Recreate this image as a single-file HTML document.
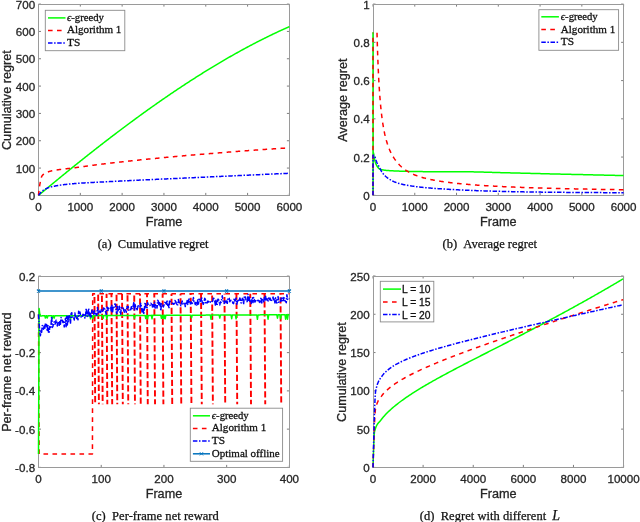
<!DOCTYPE html><html><head><meta charset="utf-8"><style>
html,body{margin:0;padding:0;background:#fff;width:640px;height:522px;overflow:hidden}
svg{display:block;will-change:transform}
.tk{font-family:"Liberation Sans",sans-serif;font-size:11.6px;fill:#262626;stroke:#262626;stroke-width:0.3px}
.lb{font-family:"Liberation Sans",sans-serif;font-size:12.65px;fill:#262626;stroke:#262626;stroke-width:0.3px}
.lg{font-family:"Liberation Serif",serif;font-size:11.3px;fill:#111;stroke:#111;stroke-width:0.3px}
.lgs{font-family:"Liberation Sans",sans-serif;font-size:10.3px;fill:#111;stroke:#111;stroke-width:0.3px}
.cap{font-family:"Liberation Serif",serif;font-size:12.5px;fill:#111;stroke:#111;stroke-width:0.25px}
</style></head><body><svg width="640" height="522" viewBox="0 0 640 522">
<path d="M38.50 195.40V192.90M38.50 4.10V6.60M80.32 195.40V192.90M80.32 4.10V6.60M122.13 195.40V192.90M122.13 4.10V6.60M163.95 195.40V192.90M163.95 4.10V6.60M205.77 195.40V192.90M205.77 4.10V6.60M247.58 195.40V192.90M247.58 4.10V6.60M289.40 195.40V192.90M289.40 4.10V6.60M38.50 195.40H41.00M289.40 195.40H286.90M38.50 168.07H41.00M289.40 168.07H286.90M38.50 140.74H41.00M289.40 140.74H286.90M38.50 113.41H41.00M289.40 113.41H286.90M38.50 86.09H41.00M289.40 86.09H286.90M38.50 58.76H41.00M289.40 58.76H286.90M38.50 31.43H41.00M289.40 31.43H286.90M38.50 4.10H41.00M289.40 4.10H286.90" stroke="#262626" stroke-width="0.6" fill="none"/>
<rect x="38.50" y="4.50" width="251.00" height="191.00" fill="none" stroke="#9a9a9a" stroke-width="1"/>
<text x="38.50" y="210.70" text-anchor="middle" class="tk">0</text>
<text x="80.32" y="210.70" text-anchor="middle" class="tk">1000</text>
<text x="122.13" y="210.70" text-anchor="middle" class="tk">2000</text>
<text x="163.95" y="210.70" text-anchor="middle" class="tk">3000</text>
<text x="205.77" y="210.70" text-anchor="middle" class="tk">4000</text>
<text x="247.58" y="210.70" text-anchor="middle" class="tk">5000</text>
<text x="289.40" y="210.70" text-anchor="middle" class="tk">6000</text>
<text x="35.10" y="199.90" text-anchor="end" class="tk">0</text>
<text x="35.10" y="172.57" text-anchor="end" class="tk">100</text>
<text x="35.10" y="145.24" text-anchor="end" class="tk">200</text>
<text x="35.10" y="117.91" text-anchor="end" class="tk">300</text>
<text x="35.10" y="90.59" text-anchor="end" class="tk">400</text>
<text x="35.10" y="63.26" text-anchor="end" class="tk">500</text>
<text x="35.10" y="35.93" text-anchor="end" class="tk">600</text>
<text x="35.10" y="8.60" text-anchor="end" class="tk">700</text>
<text x="163.95" y="225.60" text-anchor="middle" class="lb">Frame</text>
<text transform="translate(11.10 100.15) rotate(-90)" text-anchor="middle" class="lb">Cumulative regret</text>
<polyline points="38.50,195.40 38.63,195.30 38.75,195.19 38.88,195.09 39.00,194.98 39.13,194.88 39.25,194.77 39.38,194.67 39.50,194.56 39.63,194.46 39.75,194.35 39.88,194.25 40.01,194.14 40.13,194.04 40.26,193.93 40.38,193.83 40.51,193.72 40.63,193.62 40.76,193.51 40.88,193.41 41.01,193.30 41.13,193.20 41.26,193.09 41.39,192.99 41.51,192.89 41.64,192.78 41.76,192.68 41.89,192.57 42.01,192.47 42.14,192.36 42.26,192.26 42.39,192.15 42.51,192.05 42.64,191.94 42.77,191.84 42.89,191.73 43.02,191.63 43.14,191.53 43.27,191.42 43.39,191.32 43.52,191.21 43.64,191.11 43.77,191.00 43.89,190.90 44.02,190.79 44.15,190.69 44.27,190.59 44.40,190.48 44.52,190.38 44.65,190.27 44.77,190.17 44.90,190.06 45.02,189.96 45.15,189.86 45.27,189.75 45.40,189.65 45.53,189.54 45.65,189.44 45.78,189.33 45.90,189.23 46.03,189.13 46.15,189.02 46.28,188.92 46.40,188.81 46.53,188.71 46.65,188.61 46.78,188.50 46.91,188.40 47.03,188.29 47.16,188.19 47.28,188.09 47.41,187.98 47.53,187.88 47.66,187.77 47.78,187.67 47.91,187.57 48.03,187.46 48.16,187.36 48.29,187.25 48.41,187.15 48.54,187.05 48.66,186.94 48.79,186.84 48.91,186.73 49.04,186.63 49.16,186.53 49.29,186.42 49.41,186.32 49.54,186.21 49.67,186.11 49.79,186.01 49.92,185.90 50.04,185.80 50.17,185.70 50.29,185.59 50.42,185.49 50.54,185.38 50.67,185.28 50.79,185.18 50.92,185.07 51.05,184.97 51.88,184.28 52.72,183.59 53.55,182.90 54.39,182.21 55.23,181.52 56.06,180.83 56.90,180.15 57.74,179.46 58.57,178.77 59.41,178.09 60.24,177.40 61.08,176.72 61.92,176.04 62.75,175.35 63.59,174.67 64.43,173.99 65.26,173.31 66.10,172.63 66.94,171.95 67.77,171.27 68.61,170.59 69.44,169.91 70.28,169.24 71.12,168.56 71.95,167.88 72.79,167.21 73.63,166.54 74.46,165.86 75.30,165.19 76.13,164.52 76.97,163.85 77.81,163.17 78.64,162.50 79.48,161.83 80.32,161.17 81.15,160.50 81.99,159.83 82.83,159.16 83.66,158.50 84.50,157.83 85.33,157.17 86.17,156.51 87.01,155.84 87.84,155.18 88.68,154.52 89.52,153.86 90.35,153.20 91.19,152.54 92.03,151.88 92.86,151.22 93.70,150.57 94.53,149.91 95.37,149.26 96.21,148.60 97.04,147.95 97.88,147.30 98.72,146.64 99.55,145.99 100.39,145.34 101.22,144.69 102.06,144.04 102.90,143.40 103.73,142.75 104.57,142.10 105.41,141.46 106.24,140.81 107.08,140.17 107.92,139.53 108.75,138.88 109.59,138.24 110.42,137.60 111.26,136.96 112.10,136.32 112.93,135.69 113.77,135.05 114.61,134.41 115.44,133.78 116.28,133.14 117.12,132.51 117.95,131.88 118.79,131.25 119.62,130.62 120.46,129.99 121.30,129.36 122.13,128.73 122.97,128.10 123.81,127.48 124.64,126.85 125.48,126.23 126.31,125.60 127.15,124.98 127.99,124.36 128.82,123.74 129.66,123.12 130.50,122.50 131.33,121.88 132.17,121.27 133.01,120.65 133.84,120.04 134.68,119.42 135.51,118.81 136.35,118.20 137.19,117.59 138.02,116.98 138.86,116.37 139.70,115.76 140.53,115.15 141.37,114.55 142.21,113.94 143.04,113.34 143.88,112.73 144.71,112.13 145.55,111.53 146.39,110.93 147.22,110.33 148.06,109.73 148.90,109.14 149.73,108.54 150.57,107.95 151.40,107.35 152.24,106.76 153.08,106.17 153.91,105.58 154.75,104.99 155.59,104.40 156.42,103.81 157.26,103.22 158.10,102.64 158.93,102.06 159.77,101.47 160.60,100.89 161.44,100.31 162.28,99.73 163.11,99.15 163.95,98.57 164.79,98.00 165.62,97.42 166.46,96.85 167.30,96.27 168.13,95.70 168.97,95.13 169.80,94.56 170.64,93.99 171.48,93.42 172.31,92.86 173.15,92.29 173.99,91.73 174.82,91.16 175.66,90.60 176.50,90.04 177.33,89.48 178.17,88.92 179.00,88.37 179.84,87.81 180.68,87.26 181.51,86.70 182.35,86.15 183.19,85.60 184.02,85.05 184.86,84.50 185.69,83.95 186.53,83.41 187.37,82.86 188.20,82.32 189.04,81.77 189.88,81.23 190.71,80.69 191.55,80.15 192.39,79.61 193.22,79.08 194.06,78.54 194.89,78.01 195.73,77.47 196.57,76.94 197.40,76.41 198.24,75.88 199.08,75.36 199.91,74.83 200.75,74.30 201.58,73.78 202.42,73.26 203.26,72.73 204.09,72.21 204.93,71.69 205.77,71.18 206.60,70.66 207.44,70.15 208.28,69.63 209.11,69.12 209.95,68.61 210.78,68.10 211.62,67.59 212.46,67.08 213.29,66.58 214.13,66.07 214.97,65.57 215.80,65.07 216.64,64.57 217.48,64.07 218.31,63.57 219.15,63.07 219.98,62.58 220.82,62.08 221.66,61.59 222.49,61.10 223.33,60.61 224.17,60.12 225.00,59.64 225.84,59.15 226.67,58.67 227.51,58.18 228.35,57.70 229.18,57.22 230.02,56.74 230.86,56.27 231.69,55.79 232.53,55.32 233.37,54.84 234.20,54.37 235.04,53.90 235.87,53.43 236.71,52.97 237.55,52.50 238.38,52.04 239.22,51.57 240.06,51.11 240.89,50.65 241.73,50.19 242.57,49.74 243.40,49.28 244.24,48.83 245.07,48.37 245.91,47.92 246.75,47.47 247.58,47.03 248.42,46.58 249.26,46.13 250.09,45.69 250.93,45.25 251.76,44.81 252.60,44.37 253.44,43.93 254.27,43.49 255.11,43.06 255.95,42.63 256.78,42.20 257.62,41.77 258.46,41.34 259.29,40.91 260.13,40.49 260.96,40.06 261.80,39.64 262.64,39.22 263.47,38.80 264.31,38.38 265.15,37.97 265.98,37.55 266.82,37.14 267.66,36.73 268.49,36.32 269.33,35.91 270.16,35.50 271.00,35.10 271.84,34.70 272.67,34.29 273.51,33.89 274.35,33.49 275.18,33.10 276.02,32.70 276.85,32.31 277.69,31.92 278.53,31.53 279.36,31.14 280.20,30.75 281.04,30.37 281.87,29.98 282.71,29.60 283.55,29.22 284.38,28.84 285.22,28.46 286.05,28.09 286.89,27.71 287.73,27.34 288.56,26.97 289.40,26.60" fill="none" stroke="#00ff00" stroke-width="1.50" stroke-linejoin="round"/>
<polyline points="38.50,195.40 38.63,194.09 38.75,192.83 38.88,191.61 39.00,190.45 39.13,189.37 39.25,188.36 39.38,187.45 39.50,186.59 39.63,185.77 39.75,184.99 39.88,184.24 40.01,183.53 40.13,182.85 40.26,182.20 40.38,181.59 40.51,181.01 40.63,180.46 40.76,179.91 40.88,179.37 41.01,178.84 41.13,178.33 41.26,177.84 41.39,177.39 41.51,176.99 41.64,176.63 41.76,176.33 41.89,176.11 42.01,175.92 42.14,175.74 42.26,175.57 42.39,175.42 42.51,175.27 42.64,175.13 42.77,174.99 42.89,174.87 43.02,174.75 43.14,174.64 43.27,174.53 43.39,174.43 43.52,174.33 43.64,174.24 43.77,174.15 43.89,174.07 44.02,173.99 44.15,173.91 44.27,173.83 44.40,173.76 44.52,173.68 44.65,173.61 44.77,173.54 44.90,173.46 45.02,173.39 45.15,173.32 45.27,173.25 45.40,173.18 45.53,173.11 45.65,173.05 45.78,172.98 45.90,172.91 46.03,172.85 46.15,172.78 46.28,172.72 46.40,172.66 46.53,172.60 46.65,172.54 46.78,172.48 46.91,172.42 47.03,172.36 47.16,172.31 47.28,172.25 47.41,172.20 47.53,172.14 47.66,172.09 47.78,172.04 47.91,171.99 48.03,171.94 48.16,171.89 48.29,171.84 48.41,171.79 48.54,171.75 48.66,171.70 48.79,171.66 48.91,171.62 49.04,171.57 49.16,171.53 49.29,171.49 49.41,171.45 49.54,171.41 49.67,171.38 49.79,171.34 49.92,171.30 50.04,171.27 50.17,171.23 50.29,171.20 50.42,171.17 50.54,171.14 50.67,171.11 50.79,171.08 50.92,171.05 51.05,171.02 51.88,170.84 52.72,170.66 53.55,170.50 54.39,170.35 55.23,170.20 56.06,170.06 56.90,169.93 57.74,169.81 58.57,169.69 59.41,169.58 60.24,169.48 61.08,169.37 61.92,169.27 62.75,169.18 63.59,169.08 64.43,168.99 65.26,168.89 66.10,168.80 66.94,168.71 67.77,168.62 68.61,168.52 69.44,168.42 70.28,168.32 71.12,168.21 71.95,168.11 72.79,167.99 73.63,167.88 74.46,167.76 75.30,167.65 76.13,167.54 76.97,167.42 77.81,167.31 78.64,167.19 79.48,167.08 80.32,166.97 81.15,166.85 81.99,166.74 82.83,166.62 83.66,166.51 84.50,166.40 85.33,166.28 86.17,166.17 87.01,166.06 87.84,165.94 88.68,165.83 89.52,165.72 90.35,165.61 91.19,165.50 92.03,165.39 92.86,165.28 93.70,165.17 94.53,165.06 95.37,164.95 96.21,164.84 97.04,164.73 97.88,164.62 98.72,164.52 99.55,164.41 100.39,164.31 101.22,164.20 102.06,164.10 102.90,163.99 103.73,163.89 104.57,163.79 105.41,163.69 106.24,163.59 107.08,163.49 107.92,163.39 108.75,163.30 109.59,163.20 110.42,163.10 111.26,163.01 112.10,162.92 112.93,162.82 113.77,162.73 114.61,162.63 115.44,162.54 116.28,162.45 117.12,162.36 117.95,162.26 118.79,162.17 119.62,162.08 120.46,161.99 121.30,161.90 122.13,161.81 122.97,161.72 123.81,161.62 124.64,161.53 125.48,161.45 126.31,161.36 127.15,161.27 127.99,161.18 128.82,161.09 129.66,161.00 130.50,160.91 131.33,160.82 132.17,160.74 133.01,160.65 133.84,160.56 134.68,160.47 135.51,160.39 136.35,160.30 137.19,160.22 138.02,160.13 138.86,160.04 139.70,159.96 140.53,159.87 141.37,159.79 142.21,159.70 143.04,159.62 143.88,159.54 144.71,159.45 145.55,159.37 146.39,159.29 147.22,159.20 148.06,159.12 148.90,159.04 149.73,158.95 150.57,158.87 151.40,158.79 152.24,158.71 153.08,158.63 153.91,158.55 154.75,158.47 155.59,158.38 156.42,158.30 157.26,158.22 158.10,158.14 158.93,158.06 159.77,157.98 160.60,157.91 161.44,157.83 162.28,157.75 163.11,157.67 163.95,157.59 164.79,157.51 165.62,157.43 166.46,157.36 167.30,157.28 168.13,157.20 168.97,157.12 169.80,157.05 170.64,156.97 171.48,156.89 172.31,156.82 173.15,156.74 173.99,156.67 174.82,156.59 175.66,156.51 176.50,156.44 177.33,156.36 178.17,156.29 179.00,156.21 179.84,156.14 180.68,156.07 181.51,155.99 182.35,155.92 183.19,155.84 184.02,155.77 184.86,155.70 185.69,155.62 186.53,155.55 187.37,155.48 188.20,155.41 189.04,155.33 189.88,155.26 190.71,155.19 191.55,155.12 192.39,155.05 193.22,154.98 194.06,154.90 194.89,154.83 195.73,154.76 196.57,154.69 197.40,154.62 198.24,154.55 199.08,154.48 199.91,154.41 200.75,154.34 201.58,154.27 202.42,154.20 203.26,154.13 204.09,154.06 204.93,153.99 205.77,153.92 206.60,153.86 207.44,153.79 208.28,153.72 209.11,153.65 209.95,153.58 210.78,153.51 211.62,153.45 212.46,153.38 213.29,153.31 214.13,153.24 214.97,153.17 215.80,153.11 216.64,153.04 217.48,152.97 218.31,152.91 219.15,152.84 219.98,152.77 220.82,152.71 221.66,152.64 222.49,152.57 223.33,152.51 224.17,152.44 225.00,152.38 225.84,152.31 226.67,152.25 227.51,152.18 228.35,152.12 229.18,152.05 230.02,151.99 230.86,151.92 231.69,151.86 232.53,151.79 233.37,151.73 234.20,151.67 235.04,151.60 235.87,151.54 236.71,151.47 237.55,151.41 238.38,151.35 239.22,151.29 240.06,151.22 240.89,151.16 241.73,151.10 242.57,151.04 243.40,150.97 244.24,150.91 245.07,150.85 245.91,150.79 246.75,150.73 247.58,150.67 248.42,150.61 249.26,150.54 250.09,150.48 250.93,150.42 251.76,150.36 252.60,150.30 253.44,150.24 254.27,150.18 255.11,150.12 255.95,150.06 256.78,150.01 257.62,149.95 258.46,149.89 259.29,149.83 260.13,149.77 260.96,149.71 261.80,149.65 262.64,149.60 263.47,149.54 264.31,149.48 265.15,149.42 265.98,149.37 266.82,149.31 267.66,149.25 268.49,149.20 269.33,149.14 270.16,149.08 271.00,149.03 271.84,148.97 272.67,148.92 273.51,148.86 274.35,148.81 275.18,148.75 276.02,148.70 276.85,148.64 277.69,148.59 278.53,148.53 279.36,148.48 280.20,148.43 281.04,148.37 281.87,148.32 282.71,148.27 283.55,148.21 284.38,148.16 285.22,148.11 286.05,148.06 286.89,148.00 287.73,147.95 288.56,147.90 289.40,147.85" fill="none" stroke="#ff0000" stroke-width="1.50" stroke-dasharray="4.6 4.4" stroke-linejoin="round"/>
<polyline points="38.50,195.40 38.63,195.22 38.75,195.04 38.88,194.87 39.00,194.69 39.13,194.52 39.25,194.35 39.38,194.18 39.50,194.02 39.63,193.86 39.75,193.70 39.88,193.55 40.01,193.40 40.13,193.26 40.26,193.12 40.38,192.98 40.51,192.84 40.63,192.71 40.76,192.57 40.88,192.44 41.01,192.30 41.13,192.17 41.26,192.04 41.39,191.91 41.51,191.79 41.64,191.66 41.76,191.54 41.89,191.42 42.01,191.30 42.14,191.18 42.26,191.07 42.39,190.96 42.51,190.86 42.64,190.75 42.77,190.65 42.89,190.56 43.02,190.46 43.14,190.37 43.27,190.29 43.39,190.21 43.52,190.13 43.64,190.05 43.77,189.97 43.89,189.90 44.02,189.82 44.15,189.75 44.27,189.67 44.40,189.60 44.52,189.53 44.65,189.45 44.77,189.38 44.90,189.31 45.02,189.24 45.15,189.17 45.27,189.11 45.40,189.04 45.53,188.97 45.65,188.91 45.78,188.84 45.90,188.78 46.03,188.71 46.15,188.65 46.28,188.59 46.40,188.53 46.53,188.47 46.65,188.41 46.78,188.35 46.91,188.29 47.03,188.23 47.16,188.18 47.28,188.12 47.41,188.07 47.53,188.02 47.66,187.96 47.78,187.91 47.91,187.86 48.03,187.81 48.16,187.76 48.29,187.71 48.41,187.66 48.54,187.62 48.66,187.57 48.79,187.53 48.91,187.48 49.04,187.44 49.16,187.40 49.29,187.36 49.41,187.31 49.54,187.28 49.67,187.24 49.79,187.20 49.92,187.16 50.04,187.13 50.17,187.09 50.29,187.06 50.42,187.02 50.54,186.99 50.67,186.96 50.79,186.93 50.92,186.90 51.05,186.87 51.88,186.67 52.72,186.49 53.55,186.31 54.39,186.14 55.23,185.97 56.06,185.82 56.90,185.67 57.74,185.52 58.57,185.38 59.41,185.25 60.24,185.13 61.08,185.00 61.92,184.89 62.75,184.78 63.59,184.67 64.43,184.57 65.26,184.47 66.10,184.38 66.94,184.29 67.77,184.20 68.61,184.12 69.44,184.04 70.28,183.96 71.12,183.88 71.95,183.81 72.79,183.74 73.63,183.67 74.46,183.60 75.30,183.53 76.13,183.47 76.97,183.40 77.81,183.34 78.64,183.28 79.48,183.22 80.32,183.17 81.15,183.11 81.99,183.06 82.83,183.00 83.66,182.95 84.50,182.90 85.33,182.85 86.17,182.80 87.01,182.75 87.84,182.71 88.68,182.66 89.52,182.62 90.35,182.57 91.19,182.53 92.03,182.49 92.86,182.44 93.70,182.40 94.53,182.36 95.37,182.32 96.21,182.28 97.04,182.24 97.88,182.20 98.72,182.16 99.55,182.12 100.39,182.08 101.22,182.04 102.06,182.00 102.90,181.95 103.73,181.91 104.57,181.87 105.41,181.83 106.24,181.79 107.08,181.75 107.92,181.71 108.75,181.66 109.59,181.62 110.42,181.58 111.26,181.53 112.10,181.49 112.93,181.45 113.77,181.40 114.61,181.36 115.44,181.32 116.28,181.27 117.12,181.23 117.95,181.19 118.79,181.15 119.62,181.10 120.46,181.06 121.30,181.02 122.13,180.98 122.97,180.93 123.81,180.89 124.64,180.85 125.48,180.81 126.31,180.77 127.15,180.73 127.99,180.69 128.82,180.65 129.66,180.60 130.50,180.56 131.33,180.52 132.17,180.48 133.01,180.44 133.84,180.40 134.68,180.36 135.51,180.32 136.35,180.28 137.19,180.24 138.02,180.20 138.86,180.16 139.70,180.12 140.53,180.08 141.37,180.04 142.21,180.00 143.04,179.96 143.88,179.93 144.71,179.89 145.55,179.85 146.39,179.81 147.22,179.77 148.06,179.73 148.90,179.69 149.73,179.65 150.57,179.61 151.40,179.58 152.24,179.54 153.08,179.50 153.91,179.46 154.75,179.42 155.59,179.38 156.42,179.35 157.26,179.31 158.10,179.27 158.93,179.23 159.77,179.19 160.60,179.15 161.44,179.12 162.28,179.08 163.11,179.04 163.95,179.00 164.79,178.96 165.62,178.93 166.46,178.89 167.30,178.85 168.13,178.81 168.97,178.77 169.80,178.74 170.64,178.70 171.48,178.66 172.31,178.62 173.15,178.59 173.99,178.55 174.82,178.51 175.66,178.47 176.50,178.43 177.33,178.40 178.17,178.36 179.00,178.32 179.84,178.28 180.68,178.25 181.51,178.21 182.35,178.17 183.19,178.13 184.02,178.09 184.86,178.06 185.69,178.02 186.53,177.98 187.37,177.94 188.20,177.90 189.04,177.87 189.88,177.83 190.71,177.79 191.55,177.75 192.39,177.71 193.22,177.67 194.06,177.64 194.89,177.60 195.73,177.56 196.57,177.52 197.40,177.48 198.24,177.44 199.08,177.40 199.91,177.37 200.75,177.33 201.58,177.29 202.42,177.25 203.26,177.21 204.09,177.17 204.93,177.13 205.77,177.09 206.60,177.05 207.44,177.02 208.28,176.98 209.11,176.94 209.95,176.90 210.78,176.86 211.62,176.82 212.46,176.78 213.29,176.74 214.13,176.71 214.97,176.67 215.80,176.63 216.64,176.59 217.48,176.55 218.31,176.51 219.15,176.47 219.98,176.44 220.82,176.40 221.66,176.36 222.49,176.32 223.33,176.28 224.17,176.24 225.00,176.20 225.84,176.17 226.67,176.13 227.51,176.09 228.35,176.05 229.18,176.01 230.02,175.97 230.86,175.93 231.69,175.90 232.53,175.86 233.37,175.82 234.20,175.78 235.04,175.74 235.87,175.70 236.71,175.67 237.55,175.63 238.38,175.59 239.22,175.55 240.06,175.51 240.89,175.47 241.73,175.43 242.57,175.40 243.40,175.36 244.24,175.32 245.07,175.28 245.91,175.24 246.75,175.20 247.58,175.17 248.42,175.13 249.26,175.09 250.09,175.05 250.93,175.01 251.76,174.97 252.60,174.94 253.44,174.90 254.27,174.86 255.11,174.82 255.95,174.78 256.78,174.75 257.62,174.71 258.46,174.67 259.29,174.63 260.13,174.59 260.96,174.55 261.80,174.52 262.64,174.48 263.47,174.44 264.31,174.40 265.15,174.36 265.98,174.33 266.82,174.29 267.66,174.25 268.49,174.21 269.33,174.17 270.16,174.14 271.00,174.10 271.84,174.06 272.67,174.02 273.51,173.98 274.35,173.95 275.18,173.91 276.02,173.87 276.85,173.83 277.69,173.79 278.53,173.76 279.36,173.72 280.20,173.68 281.04,173.64 281.87,173.60 282.71,173.57 283.55,173.53 284.38,173.49 285.22,173.45 286.05,173.42 286.89,173.38 287.73,173.34 288.56,173.30 289.40,173.26" fill="none" stroke="#0000ff" stroke-width="1.50" stroke-dasharray="4.5 1.6 1.5 1.6" stroke-linejoin="round"/>
<rect x="45.30" y="10.30" width="79.50" height="40.40" fill="#fff" stroke="#8a8a8a" stroke-width="0.9" opacity="1"/>
<path d="M48.00 17.90H65.50" stroke="#00ff00" stroke-width="1.50"/>
<text x="67.00" y="20.80" class="lg" textLength="36.9" lengthAdjust="spacingAndGlyphs"><tspan font-style="italic">&#1013;</tspan>-greedy</text>
<path d="M48.00 30.50H65.50" stroke="#ff0000" stroke-width="1.50" stroke-dasharray="4.6 4.4"/>
<text x="67.00" y="33.40" class="lg" textLength="54.4" lengthAdjust="spacingAndGlyphs">Algorithm 1</text>
<path d="M48.00 43.00H65.50" stroke="#0000ff" stroke-width="1.50" stroke-dasharray="4.5 1.6 1.5 1.6"/>
<text x="67.00" y="45.90" class="lg" textLength="13.2" lengthAdjust="spacingAndGlyphs">TS</text>
<path d="M373.00 195.30V192.80M373.00 4.10V6.60M414.77 195.30V192.80M414.77 4.10V6.60M456.53 195.30V192.80M456.53 4.10V6.60M498.30 195.30V192.80M498.30 4.10V6.60M540.07 195.30V192.80M540.07 4.10V6.60M581.83 195.30V192.80M581.83 4.10V6.60M623.60 195.30V192.80M623.60 4.10V6.60M373.00 195.30H375.50M623.60 195.30H621.10M373.00 157.06H375.50M623.60 157.06H621.10M373.00 118.82H375.50M623.60 118.82H621.10M373.00 80.58H375.50M623.60 80.58H621.10M373.00 42.34H375.50M623.60 42.34H621.10M373.00 4.10H375.50M623.60 4.10H621.10" stroke="#262626" stroke-width="0.6" fill="none"/>
<rect x="373.50" y="4.50" width="250.00" height="191.00" fill="none" stroke="#9a9a9a" stroke-width="1"/>
<text x="373.00" y="210.60" text-anchor="middle" class="tk">0</text>
<text x="414.77" y="210.60" text-anchor="middle" class="tk">1000</text>
<text x="456.53" y="210.60" text-anchor="middle" class="tk">2000</text>
<text x="498.30" y="210.60" text-anchor="middle" class="tk">3000</text>
<text x="540.07" y="210.60" text-anchor="middle" class="tk">4000</text>
<text x="581.83" y="210.60" text-anchor="middle" class="tk">5000</text>
<text x="623.60" y="210.60" text-anchor="middle" class="tk">6000</text>
<text x="369.60" y="199.80" text-anchor="end" class="tk">0</text>
<text x="369.60" y="161.56" text-anchor="end" class="tk">0.2</text>
<text x="369.60" y="123.32" text-anchor="end" class="tk">0.4</text>
<text x="369.60" y="85.08" text-anchor="end" class="tk">0.6</text>
<text x="369.60" y="46.84" text-anchor="end" class="tk">0.8</text>
<text x="369.60" y="8.60" text-anchor="end" class="tk">1</text>
<text x="498.30" y="225.50" text-anchor="middle" class="lb">Frame</text>
<text transform="translate(347.00 100.10) rotate(-90)" text-anchor="middle" class="lb">Average regret</text>
<polyline points="373.00,195.30 373.00,32.78 373.04,155.15 373.08,152.96 373.17,152.72 373.25,152.59 373.33,152.59 373.42,152.71 373.50,152.95 373.58,153.32 373.67,153.80 373.75,154.41 373.84,155.15 373.92,155.89 374.00,156.54 374.09,157.12 374.17,157.64 374.25,158.12 374.34,158.57 374.42,158.98 374.50,159.36 374.59,159.73 374.67,160.07 374.75,160.40 374.84,160.71 374.92,161.01 375.00,161.29 375.09,161.57 375.17,161.83 375.26,162.09 375.34,162.34 375.42,162.58 375.51,162.81 375.59,163.03 375.67,163.25 375.76,163.47 375.84,163.67 375.92,163.88 376.01,164.07 376.09,164.26 376.17,164.45 376.26,164.63 376.34,164.81 376.42,164.98 376.51,165.15 376.59,165.32 376.68,165.48 376.76,165.63 376.84,165.79 376.93,165.94 377.01,166.08 377.09,166.23 377.18,166.36 377.26,166.50 377.34,166.63 377.43,166.76 377.51,166.89 377.59,167.01 377.68,167.13 377.76,167.24 377.84,167.35 377.93,167.46 378.01,167.57 378.10,167.67 378.18,167.77 378.26,167.87 378.35,167.96 378.43,168.05 378.51,168.14 378.60,168.23 378.68,168.31 378.76,168.39 378.85,168.47 378.93,168.54 379.01,168.61 379.10,168.68 379.18,168.74 379.26,168.81 379.35,168.86 379.43,168.92 379.52,168.98 379.60,169.03 379.68,169.07 379.77,169.12 379.85,169.16 379.93,169.20 380.02,169.24 380.10,169.27 380.18,169.31 380.27,169.34 380.35,169.36 380.43,169.39 380.52,169.41 380.60,169.43 380.69,169.45 380.77,169.48 380.85,169.50 380.94,169.52 381.02,169.54 381.10,169.56 381.19,169.58 381.27,169.60 381.35,169.62 381.44,169.64 381.52,169.66 381.60,169.67 381.69,169.69 381.77,169.71 381.85,169.73 381.94,169.74 382.02,169.76 382.11,169.78 382.19,169.79 382.27,169.81 382.36,169.83 382.44,169.84 382.52,169.86 382.61,169.87 382.69,169.89 382.77,169.90 382.86,169.91 382.94,169.93 383.02,169.94 383.11,169.96 383.19,169.97 383.27,169.98 383.36,170.00 383.44,170.01 383.53,170.02 383.61,170.04 383.69,170.05 383.78,170.06 383.86,170.07 383.94,170.08 384.03,170.10 384.11,170.11 384.19,170.12 384.28,170.13 384.36,170.14 384.44,170.15 384.53,170.16 384.61,170.17 384.69,170.19 384.78,170.20 384.86,170.21 384.95,170.22 385.03,170.23 385.11,170.24 385.20,170.25 385.28,170.26 385.36,170.27 385.45,170.28 385.53,170.29 386.37,170.38 387.20,170.46 388.04,170.53 388.87,170.60 389.71,170.66 390.54,170.72 391.38,170.77 392.21,170.82 393.05,170.87 393.88,170.91 394.72,170.95 395.55,170.99 396.39,171.03 397.22,171.06 398.06,171.09 398.90,171.12 399.73,171.15 400.57,171.18 401.40,171.21 402.24,171.23 403.07,171.25 403.91,171.28 404.74,171.30 405.58,171.32 406.41,171.34 407.25,171.35 408.08,171.37 408.92,171.39 409.75,171.40 410.59,171.42 411.43,171.44 412.26,171.45 413.10,171.47 413.93,171.48 414.77,171.50 415.60,171.51 416.44,171.53 417.27,171.54 418.11,171.56 418.94,171.57 419.78,171.58 420.61,171.60 421.45,171.61 422.28,171.62 423.12,171.63 423.96,171.64 424.79,171.65 425.63,171.66 426.46,171.68 427.30,171.69 428.13,171.70 428.97,171.70 429.80,171.71 430.64,171.72 431.47,171.73 432.31,171.74 433.14,171.75 433.98,171.75 434.81,171.76 435.65,171.77 436.49,171.77 437.32,171.78 438.16,171.79 438.99,171.79 439.83,171.80 440.66,171.80 441.50,171.81 442.33,171.81 443.17,171.81 444.00,171.82 444.84,171.82 445.67,171.82 446.51,171.82 447.34,171.82 448.18,171.82 449.02,171.82 449.85,171.81 450.69,171.81 451.52,171.81 452.36,171.80 453.19,171.80 454.03,171.79 454.86,171.79 455.70,171.78 456.53,171.78 457.37,171.77 458.20,171.77 459.04,171.77 459.87,171.76 460.71,171.76 461.55,171.76 462.38,171.76 463.22,171.76 464.05,171.76 464.89,171.77 465.72,171.77 466.56,171.78 467.39,171.78 468.23,171.79 469.06,171.80 469.90,171.81 470.73,171.82 471.57,171.84 472.40,171.85 473.24,171.87 474.08,171.89 474.91,171.90 475.75,171.92 476.58,171.94 477.42,171.96 478.25,171.98 479.09,172.01 479.92,172.03 480.76,172.05 481.59,172.08 482.43,172.10 483.26,172.12 484.10,172.15 484.93,172.17 485.77,172.20 486.61,172.22 487.44,172.25 488.28,172.27 489.11,172.30 489.95,172.32 490.78,172.35 491.62,172.37 492.45,172.40 493.29,172.42 494.12,172.44 494.96,172.47 495.79,172.49 496.63,172.52 497.46,172.54 498.30,172.56 499.14,172.59 499.97,172.61 500.81,172.63 501.64,172.65 502.48,172.67 503.31,172.70 504.15,172.72 504.98,172.74 505.82,172.76 506.65,172.78 507.49,172.80 508.32,172.82 509.16,172.84 509.99,172.87 510.83,172.89 511.67,172.91 512.50,172.93 513.34,172.95 514.17,172.97 515.01,172.99 515.84,173.01 516.68,173.03 517.51,173.05 518.35,173.07 519.18,173.10 520.02,173.12 520.85,173.14 521.69,173.16 522.52,173.18 523.36,173.20 524.20,173.22 525.03,173.24 525.87,173.26 526.70,173.28 527.54,173.30 528.37,173.33 529.21,173.35 530.04,173.37 530.88,173.39 531.71,173.41 532.55,173.43 533.38,173.45 534.22,173.48 535.05,173.50 535.89,173.52 536.73,173.54 537.56,173.56 538.40,173.58 539.23,173.60 540.07,173.62 540.90,173.65 541.74,173.67 542.57,173.69 543.41,173.71 544.24,173.73 545.08,173.75 545.91,173.77 546.75,173.79 547.58,173.82 548.42,173.84 549.26,173.86 550.09,173.88 550.93,173.90 551.76,173.92 552.60,173.94 553.43,173.96 554.27,173.98 555.10,174.00 555.94,174.02 556.77,174.04 557.61,174.06 558.44,174.08 559.28,174.10 560.11,174.12 560.95,174.14 561.79,174.16 562.62,174.17 563.46,174.19 564.29,174.21 565.13,174.23 565.96,174.25 566.80,174.27 567.63,174.29 568.47,174.30 569.30,174.32 570.14,174.34 570.97,174.36 571.81,174.38 572.64,174.40 573.48,174.42 574.32,174.43 575.15,174.45 575.99,174.47 576.82,174.49 577.66,174.51 578.49,174.53 579.33,174.55 580.16,174.57 581.00,174.58 581.83,174.60 582.67,174.62 583.50,174.64 584.34,174.66 585.17,174.68 586.01,174.70 586.85,174.72 587.68,174.74 588.52,174.76 589.35,174.78 590.19,174.80 591.02,174.82 591.86,174.84 592.69,174.86 593.53,174.88 594.36,174.90 595.20,174.92 596.03,174.93 596.87,174.95 597.70,174.97 598.54,174.99 599.38,175.01 600.21,175.03 601.05,175.05 601.88,175.07 602.72,175.09 603.55,175.11 604.39,175.13 605.22,175.15 606.06,175.17 606.89,175.19 607.73,175.20 608.56,175.22 609.40,175.24 610.23,175.26 611.07,175.28 611.91,175.30 612.74,175.32 613.58,175.34 614.41,175.36 615.25,175.38 616.08,175.40 616.92,175.42 617.75,175.44 618.59,175.46 619.42,175.48 620.26,175.50 621.09,175.52 621.93,175.54 622.76,175.55 623.60,175.57" fill="none" stroke="#00ff00" stroke-width="1.50" stroke-linejoin="round"/>
<path d="M373.00 195.30V32.78" stroke="#ff0000" stroke-width="1.50" stroke-dasharray="4.6 4.4" fill="none"/>
<polyline points="377.01,32.78 377.09,35.91 377.18,38.91 377.26,41.79 377.34,44.57 377.43,47.23 377.51,49.80 377.59,52.28 377.68,54.67 377.76,56.97 377.84,59.20 377.93,61.35 378.01,63.43 378.10,65.44 378.18,67.39 378.26,69.27 378.35,71.10 378.43,72.87 378.51,74.58 378.60,76.25 378.68,77.87 378.76,79.44 378.85,80.96 378.93,82.45 379.01,83.89 379.10,85.29 379.18,86.66 379.26,87.99 379.35,89.28 379.43,90.54 379.52,91.77 379.60,92.97 379.68,94.14 379.77,95.27 379.85,96.38 379.93,97.47 380.02,98.52 380.10,99.55 380.18,100.56 380.27,101.55 380.35,102.51 380.43,103.45 380.52,104.37 380.60,105.27 380.69,106.15 380.77,107.01 380.85,107.85 380.94,108.68 381.02,109.49 381.10,110.28 381.19,111.05 381.27,111.81 381.35,112.56 381.44,113.29 381.52,114.00 381.60,114.71 381.69,115.40 381.77,116.07 381.85,116.73 381.94,117.39 382.02,118.02 382.11,118.65 382.19,119.27 382.27,119.87 382.36,120.47 382.44,121.05 382.52,121.63 382.61,122.19 382.69,122.74 382.77,123.29 382.86,123.83 382.94,124.35 383.02,124.87 383.11,125.38 383.19,125.89 383.27,126.38 383.36,126.87 383.44,127.35 383.53,127.82 383.61,128.29 383.69,128.74 383.78,129.20 383.86,129.64 383.94,130.08 384.03,130.51 384.11,130.94 384.19,131.36 384.28,131.77 384.36,132.18 384.44,132.58 384.53,132.98 384.61,133.37 384.69,133.75 384.78,134.13 384.86,134.51 384.95,134.88 385.03,135.25 385.11,135.61 385.20,135.97 385.28,136.32 385.36,136.67 385.45,137.01 385.53,137.35 386.37,140.52 387.20,143.32 388.04,145.82 388.87,148.06 389.71,150.08 390.54,151.92 391.38,153.61 392.21,155.16 393.05,156.59 393.88,157.92 394.72,159.17 395.55,160.33 396.39,161.43 397.22,162.47 398.06,163.44 398.90,164.36 399.73,165.23 400.57,166.05 401.40,166.82 402.24,167.56 403.07,168.25 403.91,168.91 404.74,169.53 405.58,170.12 406.41,170.68 407.25,171.21 408.08,171.71 408.92,172.19 409.75,172.64 410.59,173.06 411.43,173.47 412.26,173.86 413.10,174.24 413.93,174.59 414.77,174.93 415.60,175.26 416.44,175.57 417.27,175.88 418.11,176.17 418.94,176.44 419.78,176.71 420.61,176.97 421.45,177.22 422.28,177.46 423.12,177.69 423.96,177.92 424.79,178.14 425.63,178.35 426.46,178.55 427.30,178.75 428.13,178.94 428.97,179.12 429.80,179.31 430.64,179.48 431.47,179.65 432.31,179.82 433.14,179.98 433.98,180.14 434.81,180.29 435.65,180.44 436.49,180.59 437.32,180.73 438.16,180.87 438.99,181.01 439.83,181.14 440.66,181.28 441.50,181.40 442.33,181.53 443.17,181.66 444.00,181.78 444.84,181.90 445.67,182.01 446.51,182.13 447.34,182.24 448.18,182.35 449.02,182.46 449.85,182.56 450.69,182.67 451.52,182.77 452.36,182.87 453.19,182.97 454.03,183.06 454.86,183.15 455.70,183.25 456.53,183.34 457.37,183.42 458.20,183.51 459.04,183.60 459.87,183.68 460.71,183.76 461.55,183.84 462.38,183.92 463.22,184.00 464.05,184.08 464.89,184.15 465.72,184.22 466.56,184.30 467.39,184.37 468.23,184.44 469.06,184.51 469.90,184.58 470.73,184.64 471.57,184.71 472.40,184.77 473.24,184.84 474.08,184.90 474.91,184.96 475.75,185.02 476.58,185.08 477.42,185.14 478.25,185.20 479.09,185.26 479.92,185.32 480.76,185.37 481.59,185.43 482.43,185.48 483.26,185.53 484.10,185.59 484.93,185.64 485.77,185.69 486.61,185.74 487.44,185.79 488.28,185.84 489.11,185.89 489.95,185.94 490.78,185.98 491.62,186.03 492.45,186.08 493.29,186.12 494.12,186.17 494.96,186.21 495.79,186.26 496.63,186.30 497.46,186.34 498.30,186.38 499.14,186.43 499.97,186.47 500.81,186.51 501.64,186.55 502.48,186.59 503.31,186.63 504.15,186.67 504.98,186.71 505.82,186.74 506.65,186.78 507.49,186.82 508.32,186.85 509.16,186.89 509.99,186.93 510.83,186.96 511.67,187.00 512.50,187.03 513.34,187.07 514.17,187.10 515.01,187.13 515.84,187.17 516.68,187.20 517.51,187.23 518.35,187.27 519.18,187.30 520.02,187.33 520.85,187.36 521.69,187.39 522.52,187.42 523.36,187.45 524.20,187.48 525.03,187.51 525.87,187.54 526.70,187.57 527.54,187.60 528.37,187.63 529.21,187.66 530.04,187.68 530.88,187.71 531.71,187.74 532.55,187.77 533.38,187.79 534.22,187.82 535.05,187.85 535.89,187.87 536.73,187.90 537.56,187.93 538.40,187.95 539.23,187.98 540.07,188.00 540.90,188.03 541.74,188.05 542.57,188.08 543.41,188.10 544.24,188.12 545.08,188.15 545.91,188.17 546.75,188.19 547.58,188.22 548.42,188.24 549.26,188.26 550.09,188.29 550.93,188.31 551.76,188.33 552.60,188.35 553.43,188.37 554.27,188.40 555.10,188.42 555.94,188.44 556.77,188.46 557.61,188.48 558.44,188.50 559.28,188.52 560.11,188.54 560.95,188.56 561.79,188.58 562.62,188.60 563.46,188.62 564.29,188.64 565.13,188.66 565.96,188.68 566.80,188.70 567.63,188.72 568.47,188.74 569.30,188.76 570.14,188.78 570.97,188.79 571.81,188.81 572.64,188.83 573.48,188.85 574.32,188.87 575.15,188.89 575.99,188.90 576.82,188.92 577.66,188.94 578.49,188.96 579.33,188.97 580.16,188.99 581.00,189.01 581.83,189.02 582.67,189.04 583.50,189.06 584.34,189.07 585.17,189.09 586.01,189.11 586.85,189.12 587.68,189.14 588.52,189.16 589.35,189.17 590.19,189.19 591.02,189.20 591.86,189.22 592.69,189.24 593.53,189.25 594.36,189.27 595.20,189.28 596.03,189.30 596.87,189.31 597.70,189.33 598.54,189.34 599.38,189.36 600.21,189.37 601.05,189.39 601.88,189.40 602.72,189.42 603.55,189.43 604.39,189.44 605.22,189.46 606.06,189.47 606.89,189.49 607.73,189.50 608.56,189.52 609.40,189.53 610.23,189.54 611.07,189.56 611.91,189.57 612.74,189.58 613.58,189.60 614.41,189.61 615.25,189.62 616.08,189.64 616.92,189.65 617.75,189.66 618.59,189.68 619.42,189.69 620.26,189.70 621.09,189.72 621.93,189.73 622.76,189.74 623.60,189.76" fill="none" stroke="#ff0000" stroke-width="1.50" stroke-dasharray="4.6 4.4" stroke-linejoin="round"/>
<polyline points="373.00,195.30 373.04,155.15 373.08,155.15 373.13,155.15 373.17,155.15 373.21,155.15 373.25,155.15 373.29,155.15 373.33,155.15 373.38,155.15 373.42,155.15 373.46,155.15 373.50,155.15 373.54,155.15 373.58,155.15 373.63,155.15 373.67,155.15 373.71,155.15 373.75,155.15 373.79,155.15 373.84,155.15 373.88,155.27 373.92,155.37 373.96,155.46 374.00,155.54 374.04,155.61 374.09,155.67 374.13,155.73 374.17,155.79 374.21,155.84 374.25,155.89 374.29,155.94 374.34,155.99 374.38,156.04 374.42,156.09 374.46,156.14 374.50,156.20 374.55,156.25 374.59,156.31 374.63,156.37 374.67,156.44 374.71,156.51 374.75,156.58 374.80,156.65 374.84,156.73 374.88,156.82 374.92,156.91 374.96,157.00 375.00,157.09 375.05,157.20 375.09,157.30 375.13,157.41 375.17,157.53 375.21,157.65 375.26,157.78 375.30,157.91 375.34,158.05 375.38,158.19 375.42,158.34 375.46,158.49 375.51,158.65 375.55,158.81 375.59,158.97 375.63,159.12 375.67,159.27 375.71,159.41 375.76,159.55 375.80,159.69 375.84,159.83 375.88,159.96 375.92,160.09 375.97,160.22 376.01,160.34 376.05,160.46 376.09,160.58 376.13,160.70 376.17,160.82 376.22,160.93 376.26,161.04 376.30,161.15 376.34,161.26 376.38,161.37 376.42,161.47 376.47,161.57 376.51,161.68 376.55,161.78 376.59,161.88 376.63,161.98 376.68,162.07 376.72,162.17 376.76,162.26 376.80,162.36 376.84,162.45 376.88,162.54 376.93,162.64 376.97,162.73 377.01,162.82 377.05,162.91 377.09,162.99 377.13,163.08 377.18,163.17 377.22,163.25 377.26,163.34 377.30,163.43 377.34,163.51 377.39,163.60 377.43,163.68 377.47,163.76 377.51,163.85 377.55,163.93 377.59,164.01 377.64,164.09 377.68,164.17 377.72,164.25 377.76,164.34 377.80,164.42 377.84,164.50 377.89,164.58 377.93,164.66 377.97,164.74 378.01,164.82 378.05,164.90 378.10,164.97 378.14,165.05 378.18,165.13 378.22,165.21 378.26,165.29 378.30,165.37 378.35,165.45 378.39,165.53 378.43,165.60 378.47,165.68 378.51,165.76 378.55,165.84 378.60,165.92 378.64,165.99 378.68,166.07 378.72,166.15 378.76,166.23 378.81,166.31 378.85,166.39 378.89,166.46 378.93,166.54 378.97,166.62 379.01,166.70 379.06,166.78 379.10,166.86 379.14,166.94 379.18,167.02 379.22,167.09 379.26,167.17 379.31,167.25 379.35,167.33 379.39,167.41 379.43,167.49 379.47,167.57 379.52,167.65 379.56,167.73 379.60,167.81 379.64,167.89 379.68,167.97 379.72,168.05 379.77,168.14 379.81,168.22 379.85,168.30 379.89,168.38 379.93,168.46 379.98,168.54 380.02,168.63 380.06,168.71 380.10,168.79 380.14,168.87 380.18,168.96 380.23,169.04 380.27,169.12 380.31,169.21 380.35,169.29 380.39,169.37 380.43,169.46 380.48,169.54 380.52,169.62 380.56,169.71 380.60,169.79 380.64,169.87 380.69,169.95 380.73,170.03 380.77,170.10 380.81,170.18 380.85,170.26 380.89,170.33 380.94,170.41 380.98,170.49 381.02,170.56 381.06,170.63 381.10,170.71 381.14,170.78 381.19,170.85 381.23,170.92 381.27,170.99 381.31,171.07 381.35,171.14 381.40,171.20 381.44,171.27 381.48,171.34 381.52,171.41 381.56,171.48 381.60,171.54 381.65,171.61 381.69,171.68 381.73,171.74 381.77,171.81 381.81,171.87 381.85,171.93 381.90,172.00 381.94,172.06 381.98,172.12 382.02,172.19 382.06,172.25 382.11,172.31 382.15,172.37 382.19,172.43 382.23,172.49 382.27,172.55 382.31,172.61 382.36,172.67 382.40,172.73 382.44,172.79 382.48,172.84 382.52,172.90 382.56,172.96 382.61,173.01 382.65,173.07 382.69,173.13 382.73,173.18 382.77,173.24 382.82,173.29 382.86,173.35 382.90,173.40 382.94,173.45 382.98,173.51 383.02,173.56 383.07,173.61 383.11,173.67 383.15,173.72 383.19,173.77 383.23,173.82 383.27,173.87 383.32,173.93 383.36,173.98 383.40,174.03 383.44,174.08 383.48,174.13 383.53,174.18 383.57,174.23 383.61,174.27 383.65,174.32 383.69,174.37 383.73,174.42 383.78,174.47 383.82,174.52 383.86,174.56 383.90,174.61 383.94,174.66 383.98,174.70 384.03,174.75 384.07,174.80 384.11,174.84 384.15,174.89 384.19,174.93 384.24,174.98 384.28,175.02 384.32,175.07 384.36,175.11 384.40,175.16 384.44,175.20 384.49,175.24 384.53,175.29 384.57,175.33 384.61,175.37 384.65,175.42 384.69,175.46 384.74,175.50 384.78,175.54 384.82,175.59 384.86,175.63 384.90,175.67 384.95,175.71 384.99,175.75 385.03,175.79 385.07,175.83 385.11,175.88 385.15,175.92 385.20,175.96 385.24,176.00 385.28,176.04 385.32,176.08 385.36,176.11 385.40,176.15 385.45,176.19 385.49,176.23 385.53,176.27 386.37,177.01 387.20,177.69 388.04,178.31 388.87,178.89 389.71,179.43 390.54,179.92 391.38,180.39 392.21,180.82 393.05,181.23 393.88,181.61 394.72,181.96 395.55,182.29 396.39,182.60 397.22,182.88 398.06,183.15 398.90,183.41 399.73,183.65 400.57,183.87 401.40,184.09 402.24,184.29 403.07,184.48 403.91,184.66 404.74,184.84 405.58,185.01 406.41,185.17 407.25,185.32 408.08,185.47 408.92,185.61 409.75,185.74 410.59,185.87 411.43,186.00 412.26,186.12 413.10,186.24 413.93,186.35 414.77,186.46 415.60,186.57 416.44,186.67 417.27,186.77 418.11,186.87 418.94,186.96 419.78,187.05 420.61,187.14 421.45,187.23 422.28,187.31 423.12,187.40 423.96,187.48 424.79,187.56 425.63,187.64 426.46,187.71 427.30,187.79 428.13,187.86 428.97,187.93 429.80,188.00 430.64,188.07 431.47,188.13 432.31,188.20 433.14,188.26 433.98,188.33 434.81,188.39 435.65,188.45 436.49,188.51 437.32,188.57 438.16,188.63 438.99,188.69 439.83,188.75 440.66,188.80 441.50,188.86 442.33,188.91 443.17,188.97 444.00,189.02 444.84,189.07 445.67,189.13 446.51,189.18 447.34,189.23 448.18,189.28 449.02,189.33 449.85,189.38 450.69,189.43 451.52,189.48 452.36,189.52 453.19,189.57 454.03,189.62 454.86,189.66 455.70,189.71 456.53,189.75 457.37,189.79 458.20,189.84 459.04,189.88 459.87,189.92 460.71,189.96 461.55,190.00 462.38,190.04 463.22,190.08 464.05,190.12 464.89,190.15 465.72,190.19 466.56,190.23 467.39,190.27 468.23,190.30 469.06,190.34 469.90,190.37 470.73,190.41 471.57,190.44 472.40,190.47 473.24,190.51 474.08,190.54 474.91,190.57 475.75,190.60 476.58,190.63 477.42,190.66 478.25,190.70 479.09,190.73 479.92,190.75 480.76,190.78 481.59,190.81 482.43,190.84 483.26,190.87 484.10,190.90 484.93,190.93 485.77,190.95 486.61,190.98 487.44,191.01 488.28,191.03 489.11,191.06 489.95,191.08 490.78,191.11 491.62,191.13 492.45,191.16 493.29,191.18 494.12,191.20 494.96,191.23 495.79,191.25 496.63,191.27 497.46,191.30 498.30,191.32 499.14,191.34 499.97,191.36 500.81,191.38 501.64,191.41 502.48,191.43 503.31,191.45 504.15,191.47 504.98,191.49 505.82,191.51 506.65,191.53 507.49,191.55 508.32,191.56 509.16,191.58 509.99,191.60 510.83,191.62 511.67,191.64 512.50,191.66 513.34,191.67 514.17,191.69 515.01,191.71 515.84,191.72 516.68,191.74 517.51,191.76 518.35,191.77 519.18,191.79 520.02,191.80 520.85,191.82 521.69,191.83 522.52,191.85 523.36,191.86 524.20,191.88 525.03,191.89 525.87,191.90 526.70,191.92 527.54,191.93 528.37,191.94 529.21,191.96 530.04,191.97 530.88,191.98 531.71,192.00 532.55,192.01 533.38,192.02 534.22,192.03 535.05,192.04 535.89,192.05 536.73,192.07 537.56,192.08 538.40,192.09 539.23,192.10 540.07,192.11 540.90,192.12 541.74,192.13 542.57,192.14 543.41,192.15 544.24,192.16 545.08,192.17 545.91,192.18 546.75,192.19 547.58,192.20 548.42,192.21 549.26,192.22 550.09,192.23 550.93,192.23 551.76,192.24 552.60,192.25 553.43,192.26 554.27,192.27 555.10,192.28 555.94,192.29 556.77,192.29 557.61,192.30 558.44,192.31 559.28,192.32 560.11,192.33 560.95,192.33 561.79,192.34 562.62,192.35 563.46,192.36 564.29,192.36 565.13,192.37 565.96,192.38 566.80,192.39 567.63,192.39 568.47,192.40 569.30,192.41 570.14,192.41 570.97,192.42 571.81,192.43 572.64,192.43 573.48,192.44 574.32,192.45 575.15,192.45 575.99,192.46 576.82,192.46 577.66,192.47 578.49,192.48 579.33,192.48 580.16,192.49 581.00,192.49 581.83,192.50 582.67,192.51 583.50,192.51 584.34,192.52 585.17,192.52 586.01,192.53 586.85,192.53 587.68,192.54 588.52,192.54 589.35,192.55 590.19,192.55 591.02,192.56 591.86,192.56 592.69,192.57 593.53,192.57 594.36,192.58 595.20,192.58 596.03,192.59 596.87,192.59 597.70,192.60 598.54,192.60 599.38,192.61 600.21,192.61 601.05,192.62 601.88,192.62 602.72,192.62 603.55,192.63 604.39,192.63 605.22,192.64 606.06,192.64 606.89,192.65 607.73,192.65 608.56,192.65 609.40,192.66 610.23,192.66 611.07,192.67 611.91,192.67 612.74,192.67 613.58,192.68 614.41,192.68 615.25,192.68 616.08,192.69 616.92,192.69 617.75,192.69 618.59,192.70 619.42,192.70 620.26,192.71 621.09,192.71 621.93,192.71 622.76,192.72 623.60,192.72" fill="none" stroke="#0000ff" stroke-width="1.50" stroke-dasharray="4.5 1.6 1.5 1.6" stroke-linejoin="round"/>
<rect x="538.90" y="9.70" width="79.70" height="40.60" fill="#fff" stroke="#8a8a8a" stroke-width="0.9" opacity="1"/>
<path d="M541.30 16.80H558.90" stroke="#00ff00" stroke-width="1.50"/>
<text x="560.80" y="19.70" class="lg" textLength="36.9" lengthAdjust="spacingAndGlyphs"><tspan font-style="italic">&#1013;</tspan>-greedy</text>
<path d="M541.30 29.60H558.90" stroke="#ff0000" stroke-width="1.50" stroke-dasharray="4.6 4.4"/>
<text x="560.80" y="32.50" class="lg" textLength="54.4" lengthAdjust="spacingAndGlyphs">Algorithm 1</text>
<path d="M541.30 42.20H558.90" stroke="#0000ff" stroke-width="1.50" stroke-dasharray="4.5 1.6 1.5 1.6"/>
<text x="560.80" y="45.10" class="lg" textLength="13.2" lengthAdjust="spacingAndGlyphs">TS</text>
<path d="M38.50 467.40V464.90M38.50 276.10V278.60M101.22 467.40V464.90M101.22 276.10V278.60M163.95 467.40V464.90M163.95 276.10V278.60M226.67 467.40V464.90M226.67 276.10V278.60M289.40 467.40V464.90M289.40 276.10V278.60M38.50 467.40H41.00M289.40 467.40H286.90M38.50 429.14H41.00M289.40 429.14H286.90M38.50 390.88H41.00M289.40 390.88H286.90M38.50 352.62H41.00M289.40 352.62H286.90M38.50 314.36H41.00M289.40 314.36H286.90M38.50 276.10H41.00M289.40 276.10H286.90" stroke="#262626" stroke-width="0.6" fill="none"/>
<rect x="38.50" y="276.50" width="251.00" height="191.00" fill="none" stroke="#9a9a9a" stroke-width="1"/>
<text x="38.50" y="482.70" text-anchor="middle" class="tk">0</text>
<text x="101.22" y="482.70" text-anchor="middle" class="tk">100</text>
<text x="163.95" y="482.70" text-anchor="middle" class="tk">200</text>
<text x="226.67" y="482.70" text-anchor="middle" class="tk">300</text>
<text x="289.40" y="482.70" text-anchor="middle" class="tk">400</text>
<text x="35.10" y="471.90" text-anchor="end" class="tk">-0.8</text>
<text x="35.10" y="433.64" text-anchor="end" class="tk">-0.6</text>
<text x="35.10" y="395.38" text-anchor="end" class="tk">-0.4</text>
<text x="35.10" y="357.12" text-anchor="end" class="tk">-0.2</text>
<text x="35.10" y="318.86" text-anchor="end" class="tk">0</text>
<text x="35.10" y="280.60" text-anchor="end" class="tk">0.2</text>
<text x="163.95" y="497.60" text-anchor="middle" class="lb">Frame</text>
<text transform="translate(11.10 372.15) rotate(-90)" text-anchor="middle" class="lb">Per-frame net reward</text>
<polyline points="38.50,291.02 289.40,291.02" fill="none" stroke="#0072bd" stroke-width="1.50" stroke-linejoin="round"/>
<path d="M37.00 289.52L40.00 292.52M37.00 292.52L40.00 289.52" stroke="#0072bd" stroke-width="1.2"/>
<path d="M99.72 289.52L102.72 292.52M99.72 292.52L102.72 289.52" stroke="#0072bd" stroke-width="1.2"/>
<path d="M162.45 289.52L165.45 292.52M162.45 292.52L165.45 289.52" stroke="#0072bd" stroke-width="1.2"/>
<path d="M225.17 289.52L228.17 292.52M225.17 292.52L228.17 289.52" stroke="#0072bd" stroke-width="1.2"/>
<path d="M287.90 289.52L290.90 292.52M287.90 292.52L290.90 289.52" stroke="#0072bd" stroke-width="1.2"/>
<polyline points="38.50,314.36 39.13,454.01 92.44,454.01 92.69,293.70 289.40,293.70" fill="none" stroke="#ff0000" stroke-width="1.50" stroke-dasharray="4.6 4.4" stroke-linejoin="round"/>
<path d="M94.45 293.70L95.20 404.27" stroke="#ff0000" stroke-width="1.90" stroke-dasharray="6.3 2.7" stroke-dashoffset="5.63" fill="none"/>
<path d="M98.15 293.70L98.90 404.27" stroke="#ff0000" stroke-width="1.90" stroke-dasharray="6.3 2.7" stroke-dashoffset="8.07" fill="none"/>
<path d="M101.91 293.70L102.67 404.27" stroke="#ff0000" stroke-width="1.90" stroke-dasharray="6.3 2.7" stroke-dashoffset="6.98" fill="none"/>
<path d="M106.56 293.70L107.31 404.27" stroke="#ff0000" stroke-width="1.90" stroke-dasharray="6.3 2.7" stroke-dashoffset="2.03" fill="none"/>
<path d="M111.45 293.70L112.20 404.27" stroke="#ff0000" stroke-width="1.90" stroke-dasharray="6.3 2.7" stroke-dashoffset="2.70" fill="none"/>
<path d="M116.53 293.70L117.28 404.27" stroke="#ff0000" stroke-width="1.90" stroke-dasharray="6.3 2.7" stroke-dashoffset="7.86" fill="none"/>
<path d="M122.05 293.70L122.80 404.27" stroke="#ff0000" stroke-width="1.90" stroke-dasharray="6.3 2.7" stroke-dashoffset="0.05" fill="none"/>
<path d="M127.51 293.70L128.26 404.27" stroke="#ff0000" stroke-width="1.90" stroke-dasharray="6.3 2.7" stroke-dashoffset="7.39" fill="none"/>
<path d="M134.22 293.70L134.97 404.27" stroke="#ff0000" stroke-width="1.90" stroke-dasharray="6.3 2.7" stroke-dashoffset="7.17" fill="none"/>
<path d="M139.99 293.70L140.74 404.27" stroke="#ff0000" stroke-width="1.90" stroke-dasharray="6.3 2.7" stroke-dashoffset="4.21" fill="none"/>
<path d="M147.01 293.70L147.77 404.27" stroke="#ff0000" stroke-width="1.90" stroke-dasharray="6.3 2.7" stroke-dashoffset="2.73" fill="none"/>
<path d="M154.29 293.70L155.04 404.27" stroke="#ff0000" stroke-width="1.90" stroke-dasharray="6.3 2.7" stroke-dashoffset="2.51" fill="none"/>
<path d="M162.63 293.70L163.39 404.27" stroke="#ff0000" stroke-width="1.90" stroke-dasharray="6.3 2.7" stroke-dashoffset="2.29" fill="none"/>
<path d="M171.48 293.70L172.23 404.27" stroke="#ff0000" stroke-width="1.90" stroke-dasharray="6.3 2.7" stroke-dashoffset="4.01" fill="none"/>
<path d="M180.51 293.70L181.26 404.27" stroke="#ff0000" stroke-width="1.90" stroke-dasharray="6.3 2.7" stroke-dashoffset="4.54" fill="none"/>
<path d="M190.67 293.70L191.42 404.27" stroke="#ff0000" stroke-width="1.90" stroke-dasharray="6.3 2.7" stroke-dashoffset="4.98" fill="none"/>
<path d="M201.02 293.70L201.77 404.27" stroke="#ff0000" stroke-width="1.90" stroke-dasharray="6.3 2.7" stroke-dashoffset="8.96" fill="none"/>
<path d="M212.12 293.70L212.88 404.27" stroke="#ff0000" stroke-width="1.90" stroke-dasharray="6.3 2.7" stroke-dashoffset="7.13" fill="none"/>
<path d="M224.48 293.70L225.23 404.27" stroke="#ff0000" stroke-width="1.90" stroke-dasharray="6.3 2.7" stroke-dashoffset="5.60" fill="none"/>
<path d="M236.46 293.70L237.21 404.27" stroke="#ff0000" stroke-width="1.90" stroke-dasharray="6.3 2.7" stroke-dashoffset="8.90" fill="none"/>
<path d="M250.26 293.70L251.01 404.27" stroke="#ff0000" stroke-width="1.90" stroke-dasharray="6.3 2.7" stroke-dashoffset="1.94" fill="none"/>
<path d="M264.50 293.70L265.25 404.27" stroke="#ff0000" stroke-width="1.90" stroke-dasharray="6.3 2.7" stroke-dashoffset="1.44" fill="none"/>
<path d="M280.49 293.70L281.25 404.27" stroke="#ff0000" stroke-width="1.90" stroke-dasharray="6.3 2.7" stroke-dashoffset="5.51" fill="none"/>
<polyline points="38.50,454.01 39.13,308.62 39.75,314.36 40.38,315.88 41.01,315.88 41.64,315.88 42.26,315.87 42.89,315.87 43.52,315.87 44.15,315.86 44.77,315.86 45.40,318.10 46.03,315.86 46.65,315.85 47.28,318.03 47.91,315.85 48.54,315.84 49.16,315.84 49.79,315.84 50.42,315.84 51.05,315.83 51.67,315.83 52.30,318.40 52.93,315.82 53.55,315.82 54.18,318.17 54.81,315.82 55.44,315.81 56.06,315.81 56.69,315.81 57.32,315.80 57.94,315.80 58.57,315.80 59.20,315.80 59.83,315.79 60.45,315.79 61.08,315.79 61.71,315.78 62.34,315.78 62.96,315.78 63.59,315.78 64.22,315.77 64.84,315.77 65.47,315.77 66.10,315.76 66.73,315.76 67.35,315.76 67.98,319.10 68.61,315.75 69.24,315.75 69.86,315.75 70.49,319.28 71.12,315.74 71.74,315.74 72.37,315.74 73.00,315.73 73.63,315.73 74.25,315.73 74.88,315.72 75.51,315.72 76.13,315.72 76.76,318.03 77.39,315.71 78.02,315.71 78.64,315.71 79.27,315.70 79.90,315.70 80.53,315.70 81.15,315.70 81.78,315.69 82.41,315.69 83.03,315.69 83.66,315.68 84.29,315.68 84.92,315.68 85.54,315.68 86.17,315.67 86.80,315.67 87.43,315.67 88.05,315.66 88.68,315.66 89.31,315.66 89.93,315.66 90.56,318.78 91.19,315.65 91.82,315.65 92.44,315.64 93.07,318.71 93.70,315.64 94.33,315.64 94.95,315.63 95.58,315.63 96.21,315.63 96.83,315.62 97.46,315.62 98.09,315.62 98.72,315.61 99.34,315.61 99.97,315.61 100.60,315.61 101.22,315.60 101.85,315.60 102.48,315.60 103.11,318.38 103.73,315.59 104.36,315.59 104.99,315.59 105.62,315.58 106.24,315.58 106.87,319.05 107.50,315.57 108.12,315.57 108.75,315.57 109.38,315.57 110.01,315.56 110.63,315.56 111.26,315.56 111.89,315.55 112.52,315.55 113.14,315.55 113.77,315.55 114.40,315.54 115.02,315.54 115.65,315.54 116.28,315.53 116.91,315.53 117.53,315.53 118.16,315.53 118.79,315.52 119.42,315.52 120.04,315.52 120.67,315.51 121.30,315.51 121.92,315.51 122.55,315.51 123.18,315.50 123.81,315.50 124.43,315.50 125.06,315.49 125.69,315.49 126.31,315.49 126.94,315.49 127.57,315.48 128.20,315.48 128.82,315.48 129.45,315.47 130.08,315.47 130.71,315.47 131.33,315.47 131.96,315.46 132.59,315.46 133.21,315.46 133.84,315.45 134.47,318.26 135.10,315.45 135.72,315.45 136.35,315.44 136.98,315.44 137.61,315.44 138.23,315.43 138.86,315.43 139.49,315.43 140.11,315.43 140.74,315.42 141.37,315.42 142.00,315.42 142.62,315.41 143.25,315.41 143.88,315.41 144.51,315.41 145.13,315.40 145.76,318.48 146.39,315.40 147.01,315.39 147.64,318.83 148.27,315.39 148.90,315.39 149.52,315.38 150.15,315.38 150.78,315.38 151.40,315.37 152.03,318.84 152.66,315.37 153.29,315.37 153.91,315.36 154.54,315.36 155.17,315.36 155.80,315.35 156.42,315.35 157.05,315.35 157.68,315.35 158.30,315.34 158.93,315.34 159.56,315.34 160.19,315.33 160.81,315.33 161.44,318.30 162.07,315.33 162.70,318.03 163.32,315.32 163.95,318.42 164.58,315.31 165.20,318.68 165.83,315.31 166.46,315.31 167.09,315.30 167.71,315.30 168.34,315.30 168.97,315.29 169.60,315.29 170.22,315.29 170.85,315.28 171.48,315.28 172.10,315.28 172.73,315.28 173.36,315.27 173.99,315.27 174.61,315.27 175.24,315.26 175.87,315.26 176.50,315.26 177.12,315.26 177.75,315.25 178.38,315.25 179.00,315.25 179.63,315.24 180.26,315.24 180.89,315.24 181.51,315.24 182.14,315.23 182.77,315.23 183.39,315.23 184.02,315.22 184.65,315.22 185.28,315.22 185.90,315.22 186.53,315.21 187.16,315.21 187.79,315.21 188.41,315.20 189.04,315.20 189.67,315.20 190.29,315.20 190.92,315.19 191.55,317.95 192.18,315.19 192.80,315.18 193.43,315.18 194.06,315.18 194.69,315.18 195.31,315.17 195.94,315.17 196.57,315.17 197.19,315.16 197.82,315.16 198.45,315.16 199.08,315.16 199.70,315.15 200.33,315.15 200.96,315.15 201.58,315.14 202.21,315.14 202.84,315.14 203.47,315.14 204.09,315.13 204.72,315.13 205.35,315.13 205.98,315.12 206.60,315.12 207.23,315.12 207.86,315.12 208.48,315.11 209.11,315.11 209.74,315.11 210.37,315.10 210.99,319.25 211.62,315.10 212.25,315.10 212.88,315.09 213.50,315.09 214.13,315.09 214.76,315.08 215.38,315.08 216.01,315.08 216.64,315.08 217.27,315.07 217.89,315.07 218.52,315.07 219.15,315.06 219.78,318.00 220.40,315.06 221.03,315.06 221.66,315.05 222.28,315.05 222.91,315.05 223.54,315.04 224.17,315.04 224.79,315.04 225.42,315.04 226.05,315.03 226.67,315.03 227.30,315.03 227.93,315.02 228.56,315.02 229.18,315.02 229.81,315.02 230.44,315.01 231.07,315.01 231.69,318.73 232.32,315.00 232.95,315.00 233.57,315.00 234.20,315.00 234.83,314.99 235.46,314.99 236.08,318.82 236.71,314.98 237.34,314.98 237.97,314.98 238.59,314.98 239.22,314.97 239.85,314.97 240.47,314.97 241.10,314.96 241.73,314.96 242.36,314.96 242.98,314.95 243.61,314.95 244.24,314.95 244.87,314.95 245.49,314.94 246.12,314.94 246.75,314.94 247.37,314.93 248.00,314.93 248.63,314.93 249.26,314.93 249.88,314.92 250.51,314.92 251.14,314.92 251.76,314.91 252.39,314.91 253.02,314.91 253.65,314.91 254.27,314.90 254.90,314.90 255.53,314.90 256.16,314.89 256.78,314.89 257.41,319.30 258.04,314.89 258.66,314.88 259.29,314.88 259.92,314.88 260.55,314.87 261.17,314.87 261.80,314.87 262.43,314.87 263.06,314.86 263.68,314.86 264.31,314.86 264.94,314.85 265.56,314.85 266.19,314.85 266.82,314.85 267.45,314.84 268.07,319.19 268.70,314.84 269.33,314.83 269.96,314.83 270.58,314.83 271.21,314.83 271.84,314.82 272.46,314.82 273.09,314.82 273.72,314.81 274.35,314.81 274.97,314.81 275.60,314.81 276.23,314.80 276.85,314.80 277.48,318.13 278.11,314.79 278.74,314.79 279.36,314.79 279.99,314.79 280.62,318.65 281.25,314.78 281.87,314.78 282.50,314.77 283.13,314.77 283.75,314.77 284.38,314.77 285.01,314.76 285.64,319.22 286.26,314.76 286.89,314.75 287.52,319.14 288.15,314.75 288.77,314.75 289.40,314.74" fill="none" stroke="#00ff00" stroke-width="1.50" stroke-linejoin="round"/>
<polyline points="38.50,314.36 39.13,323.45 39.75,332.36 40.38,335.68 41.01,330.98 41.64,332.37 42.26,325.53 42.89,327.03 43.52,329.16 44.15,325.95 44.77,329.34 45.40,323.45 46.03,327.01 46.65,324.49 47.28,331.38 47.91,324.89 48.54,332.32 49.16,333.34 49.79,326.56 50.42,328.52 51.05,324.28 51.67,316.30 52.30,327.44 52.93,326.40 53.55,323.09 54.18,321.78 54.81,323.96 55.44,323.81 56.06,320.25 56.69,320.66 57.32,325.99 57.94,322.30 58.57,321.68 59.20,325.36 59.83,320.48 60.45,324.23 61.08,317.57 61.71,320.11 62.34,320.27 62.96,322.44 63.59,320.59 64.22,326.90 64.84,323.68 65.47,318.32 66.10,326.67 66.73,316.27 67.35,324.91 67.98,316.18 68.61,321.41 69.24,315.72 69.86,317.70 70.49,323.10 71.12,313.56 71.74,312.72 72.37,317.55 73.00,318.03 73.63,317.45 74.25,319.93 74.88,312.91 75.51,318.09 76.13,316.27 76.76,318.48 77.39,317.73 78.02,319.67 78.64,311.32 79.27,315.71 79.90,311.96 80.53,314.85 81.15,316.95 81.78,315.61 82.41,316.19 83.03,314.22 83.66,315.27 84.29,314.87 84.92,318.09 85.54,316.13 86.17,308.28 86.80,315.37 87.43,316.39 88.05,311.92 88.68,308.46 89.31,317.11 89.93,313.19 90.56,314.40 91.19,317.76 91.82,310.05 92.44,312.27 93.07,311.90 93.70,314.30 94.33,310.57 94.95,313.48 95.58,312.20 96.21,315.00 96.83,315.23 97.46,307.53 98.09,312.93 98.72,310.47 99.34,311.35 99.97,312.46 100.60,312.57 101.22,309.14 101.85,311.78 102.48,311.25 103.11,310.66 103.73,307.22 104.36,308.58 104.99,309.36 105.62,312.01 106.24,314.27 106.87,307.47 107.50,307.34 108.12,310.43 108.75,308.39 109.38,307.63 110.01,307.40 110.63,307.07 111.26,310.89 111.89,305.23 112.52,312.94 113.14,306.91 113.77,307.86 114.40,306.71 115.02,303.82 115.65,304.84 116.28,312.09 116.91,313.51 117.53,306.48 118.16,311.49 118.79,308.65 119.42,306.24 120.04,313.01 120.67,314.22 121.30,307.65 121.92,308.17 122.55,308.90 123.18,308.06 123.81,310.44 124.43,312.14 125.06,308.42 125.69,310.53 126.31,312.28 126.94,306.41 127.57,307.88 128.20,306.55 128.82,310.23 129.45,309.28 130.08,310.12 130.71,309.75 131.33,306.80 131.96,309.34 132.59,306.25 133.21,306.23 133.84,301.71 134.47,310.67 135.10,304.59 135.72,307.10 136.35,306.84 136.98,310.54 137.61,307.88 138.23,304.67 138.86,306.76 139.49,306.27 140.11,307.17 140.74,303.35 141.37,306.34 142.00,311.92 142.62,307.94 143.25,311.17 143.88,314.40 144.51,307.32 145.13,302.47 145.76,305.71 146.39,308.77 147.01,308.11 147.64,302.75 148.27,305.17 148.90,305.39 149.52,305.58 150.15,305.28 150.78,303.27 151.40,303.85 152.03,304.64 152.66,307.75 153.29,303.77 153.91,306.71 154.54,302.17 155.17,308.05 155.80,305.14 156.42,304.77 157.05,308.02 157.68,300.37 158.30,300.98 158.93,305.74 159.56,302.62 160.19,303.56 160.81,310.94 161.44,303.79 162.07,304.52 162.70,304.12 163.32,306.94 163.95,304.91 164.58,304.64 165.20,301.24 165.83,303.29 166.46,304.09 167.09,300.28 167.71,305.35 168.34,304.90 168.97,308.34 169.60,300.03 170.22,301.47 170.85,301.54 171.48,302.11 172.10,303.42 172.73,303.12 173.36,304.22 173.99,304.05 174.61,303.39 175.24,299.83 175.87,302.09 176.50,303.53 177.12,304.74 177.75,304.83 178.38,299.41 179.00,302.01 179.63,303.02 180.26,303.97 180.89,305.75 181.51,303.21 182.14,300.92 182.77,303.90 183.39,303.47 184.02,303.41 184.65,302.58 185.28,306.58 185.90,303.31 186.53,304.74 187.16,300.57 187.79,304.45 188.41,301.22 189.04,298.94 189.67,303.24 190.29,303.88 190.92,301.96 191.55,302.38 192.18,304.67 192.80,301.20 193.43,297.51 194.06,302.81 194.69,302.63 195.31,304.56 195.94,301.34 196.57,304.98 197.19,304.62 197.82,299.02 198.45,304.09 199.08,299.43 199.70,298.38 200.33,301.29 200.96,300.58 201.58,297.31 202.21,302.27 202.84,303.16 203.47,304.90 204.09,301.64 204.72,298.28 205.35,299.46 205.98,303.83 206.60,303.60 207.23,302.76 207.86,300.90 208.48,302.02 209.11,301.02 209.74,300.81 210.37,302.15 210.99,301.53 211.62,300.93 212.25,301.57 212.88,300.20 213.50,297.04 214.13,299.94 214.76,301.14 215.38,305.10 216.01,300.33 216.64,305.63 217.27,304.38 217.89,299.18 218.52,299.50 219.15,301.42 219.78,304.94 220.40,301.87 221.03,302.54 221.66,299.52 222.28,295.81 222.91,300.42 223.54,302.65 224.17,303.51 224.79,300.96 225.42,301.21 226.05,303.38 226.67,300.49 227.30,303.32 227.93,298.18 228.56,298.27 229.18,298.19 229.81,301.68 230.44,299.43 231.07,300.86 231.69,301.41 232.32,301.27 232.95,303.40 233.57,303.69 234.20,298.64 234.83,300.82 235.46,299.89 236.08,298.11 236.71,304.22 237.34,302.07 237.97,299.90 238.59,299.40 239.22,301.10 239.85,297.94 240.47,299.75 241.10,302.91 241.73,302.26 242.36,298.36 242.98,299.10 243.61,304.35 244.24,297.09 244.87,298.75 245.49,297.07 246.12,300.89 246.75,300.68 247.37,302.50 248.00,294.34 248.63,300.35 249.26,296.41 249.88,301.36 250.51,299.54 251.14,303.59 251.76,300.71 252.39,297.66 253.02,302.59 253.65,297.43 254.27,299.04 254.90,302.07 255.53,300.85 256.16,300.74 256.78,299.81 257.41,300.87 258.04,301.49 258.66,300.32 259.29,301.89 259.92,302.45 260.55,299.69 261.17,297.62 261.80,302.91 262.43,299.52 263.06,300.94 263.68,301.63 264.31,297.59 264.94,300.58 265.56,296.13 266.19,301.12 266.82,298.54 267.45,299.87 268.07,301.00 268.70,298.04 269.33,299.65 269.96,297.96 270.58,299.37 271.21,301.63 271.84,299.45 272.46,299.09 273.09,297.09 273.72,301.15 274.35,299.23 274.97,302.89 275.60,297.68 276.23,301.45 276.85,303.02 277.48,299.18 278.11,296.62 278.74,302.34 279.36,301.36 279.99,300.59 280.62,301.41 281.25,298.10 281.87,300.67 282.50,300.46 283.13,297.60 283.75,300.50 284.38,297.89 285.01,300.93 285.64,301.43 286.26,302.77 286.89,294.70 287.52,299.43 288.15,298.18 288.77,298.76 289.40,298.33" fill="none" stroke="#0000ff" stroke-width="1.50" stroke-dasharray="5 1.4 1.4 1.4" stroke-linejoin="round"/>
<rect x="190.30" y="408.20" width="92.30" height="53.10" fill="#fff" stroke="#8a8a8a" stroke-width="0.9" opacity="1"/>
<path d="M192.90 415.80H210.00" stroke="#00ff00" stroke-width="1.50"/>
<text x="211.80" y="418.70" class="lg" textLength="36.9" lengthAdjust="spacingAndGlyphs"><tspan font-style="italic">&#1013;</tspan>-greedy</text>
<path d="M192.90 428.40H210.00" stroke="#ff0000" stroke-width="1.50" stroke-dasharray="4.6 4.4"/>
<text x="211.80" y="431.30" class="lg" textLength="54.4" lengthAdjust="spacingAndGlyphs">Algorithm 1</text>
<path d="M192.90 441.00H210.00" stroke="#0000ff" stroke-width="1.50" stroke-dasharray="4.5 1.6 1.5 1.6"/>
<text x="211.80" y="443.90" class="lg" textLength="13.2" lengthAdjust="spacingAndGlyphs">TS</text>
<path d="M192.90 453.80H210.00" stroke="#0072bd" stroke-width="1.50"/>
<path d="M199.85 452.20L203.05 455.40M199.85 455.40L203.05 452.20" stroke="#0072bd" stroke-width="0.9"/>
<text x="211.80" y="456.70" class="lg" textLength="67.9" lengthAdjust="spacingAndGlyphs">Optimal offline</text>
<path d="M373.00 467.40V464.90M373.00 276.00V278.50M423.12 467.40V464.90M423.12 276.00V278.50M473.24 467.40V464.90M473.24 276.00V278.50M523.36 467.40V464.90M523.36 276.00V278.50M573.48 467.40V464.90M573.48 276.00V278.50M623.60 467.40V464.90M623.60 276.00V278.50M373.00 467.40H375.50M623.60 467.40H621.10M373.00 429.12H375.50M623.60 429.12H621.10M373.00 390.84H375.50M623.60 390.84H621.10M373.00 352.56H375.50M623.60 352.56H621.10M373.00 314.28H375.50M623.60 314.28H621.10M373.00 276.00H375.50M623.60 276.00H621.10" stroke="#262626" stroke-width="0.6" fill="none"/>
<rect x="373.50" y="276.50" width="250.00" height="191.00" fill="none" stroke="#9a9a9a" stroke-width="1"/>
<text x="373.00" y="482.70" text-anchor="middle" class="tk">0</text>
<text x="423.12" y="482.70" text-anchor="middle" class="tk">2000</text>
<text x="473.24" y="482.70" text-anchor="middle" class="tk">4000</text>
<text x="523.36" y="482.70" text-anchor="middle" class="tk">6000</text>
<text x="573.48" y="482.70" text-anchor="middle" class="tk">8000</text>
<text x="623.60" y="482.70" text-anchor="middle" class="tk">10000</text>
<text x="369.60" y="471.90" text-anchor="end" class="tk">0</text>
<text x="369.60" y="433.62" text-anchor="end" class="tk">50</text>
<text x="369.60" y="395.34" text-anchor="end" class="tk">100</text>
<text x="369.60" y="357.06" text-anchor="end" class="tk">150</text>
<text x="369.60" y="318.78" text-anchor="end" class="tk">200</text>
<text x="369.60" y="280.50" text-anchor="end" class="tk">250</text>
<text x="498.30" y="497.60" text-anchor="middle" class="lb">Frame</text>
<text transform="translate(346.00 372.10) rotate(-90)" text-anchor="middle" class="lb">Cumulative regret</text>
<polyline points="373.00,467.40 373.05,465.99 373.10,464.54 373.15,463.07 373.20,461.58 373.25,460.07 373.30,458.55 373.35,457.02 373.40,455.49 373.45,453.96 373.50,452.45 373.55,450.95 373.60,449.46 373.65,448.01 373.70,446.58 373.75,445.18 373.80,443.83 373.85,442.52 373.90,441.26 373.95,440.05 374.00,438.91 374.05,437.82 374.10,436.81 374.15,435.88 374.20,435.02 374.25,434.25 374.30,433.58 374.35,432.99 374.40,432.51 374.45,432.13 374.50,431.87 374.55,431.66 374.60,431.45 374.65,431.25 374.70,431.06 374.75,430.86 374.80,430.67 374.85,430.48 374.90,430.30 374.95,430.12 375.00,429.94 375.05,429.76 375.11,429.59 375.16,429.42 375.21,429.25 375.26,429.09 375.31,428.93 375.36,428.77 375.41,428.61 375.46,428.46 375.51,428.31 375.56,428.16 375.61,428.02 375.66,427.88 375.71,427.74 375.76,427.60 375.81,427.46 375.86,427.33 375.91,427.20 375.96,427.07 376.01,426.95 376.06,426.82 376.11,426.70 376.16,426.58 376.21,426.47 376.26,426.35 376.31,426.24 376.36,426.13 376.41,426.02 376.46,425.92 376.51,425.81 376.56,425.71 376.61,425.61 376.66,425.51 376.71,425.41 376.76,425.32 376.81,425.22 376.86,425.13 376.91,425.04 376.96,424.95 377.01,424.87 377.06,424.78 377.11,424.70 377.16,424.62 377.21,424.53 377.26,424.46 377.31,424.38 377.36,424.30 377.41,424.23 377.46,424.15 377.51,424.08 377.56,424.01 377.61,423.94 377.66,423.87 377.71,423.80 377.76,423.73 377.81,423.66 377.86,423.60 377.91,423.53 377.96,423.47 378.01,423.41 378.06,423.35 378.11,423.29 378.16,423.23 378.21,423.17 378.26,423.11 378.31,423.05 378.36,422.99 378.41,422.93 378.46,422.88 378.51,422.82 378.56,422.77 378.61,422.71 378.66,422.66 378.71,422.60 378.76,422.55 378.81,422.49 378.86,422.44 378.91,422.39 378.96,422.33 379.01,422.28 379.06,422.23 379.11,422.18 379.16,422.12 379.21,422.07 379.26,422.02 379.32,421.97 379.37,421.91 379.42,421.86 379.47,421.81 379.52,421.75 379.57,421.70 379.62,421.65 379.67,421.59 379.72,421.54 379.77,421.48 379.82,421.43 379.87,421.37 379.92,421.31 379.97,421.26 380.02,421.20 380.07,421.14 380.12,421.08 380.17,421.02 380.22,420.96 380.27,420.90 380.32,420.84 380.37,420.78 380.42,420.71 380.47,420.65 380.52,420.58 381.52,419.21 382.52,417.93 383.53,416.75 384.53,415.64 385.53,414.58 386.53,413.55 387.53,412.53 388.54,411.54 389.54,410.60 390.54,409.68 391.54,408.78 392.55,407.91 393.55,407.05 394.55,406.20 395.55,405.38 396.56,404.58 397.56,403.79 398.56,403.02 399.56,402.25 400.57,401.50 401.57,400.76 402.57,400.03 403.57,399.31 404.58,398.60 405.58,397.90 406.58,397.21 407.58,396.52 408.59,395.85 409.59,395.18 410.59,394.52 411.59,393.86 412.59,393.21 413.60,392.57 414.60,391.93 415.60,391.30 416.60,390.67 417.61,390.05 418.61,389.44 419.61,388.82 420.61,388.22 421.62,387.61 422.62,387.01 423.62,386.42 424.62,385.83 425.63,385.24 426.63,384.65 427.63,384.07 428.63,383.49 429.64,382.92 430.64,382.35 431.64,381.78 432.64,381.21 433.65,380.65 434.65,380.09 435.65,379.53 436.65,378.97 437.65,378.41 438.66,377.86 439.66,377.31 440.66,376.76 441.66,376.22 442.67,375.67 443.67,375.13 444.67,374.59 445.67,374.05 446.68,373.51 447.68,372.97 448.68,372.44 449.68,371.90 450.69,371.37 451.69,370.84 452.69,370.31 453.69,369.78 454.70,369.25 455.70,368.72 456.70,368.20 457.70,367.67 458.71,367.15 459.71,366.63 460.71,366.10 461.71,365.58 462.71,365.06 463.72,364.54 464.72,364.02 465.72,363.51 466.72,362.99 467.73,362.47 468.73,361.95 469.73,361.44 470.73,360.92 471.74,360.41 472.74,359.89 473.74,359.38 474.74,358.86 475.75,358.35 476.75,357.84 477.75,357.32 478.75,356.81 479.76,356.30 480.76,355.79 481.76,355.27 482.76,354.76 483.77,354.25 484.77,353.74 485.77,353.23 486.77,352.72 487.77,352.21 488.78,351.69 489.78,351.18 490.78,350.67 491.78,350.16 492.79,349.65 493.79,349.14 494.79,348.63 495.79,348.12 496.80,347.60 497.80,347.09 498.80,346.58 499.80,346.07 500.81,345.56 501.81,345.05 502.81,344.53 503.81,344.02 504.82,343.51 505.82,342.99 506.82,342.48 507.82,341.97 508.83,341.45 509.83,340.94 510.83,340.43 511.83,339.91 512.83,339.40 513.84,338.88 514.84,338.37 515.84,337.85 516.84,337.33 517.85,336.82 518.85,336.30 519.85,335.78 520.85,335.26 521.86,334.75 522.86,334.23 523.86,333.71 524.86,333.19 525.87,332.67 526.87,332.15 527.87,331.63 528.87,331.10 529.88,330.58 530.88,330.06 531.88,329.54 532.88,329.01 533.89,328.49 534.89,327.96 535.89,327.44 536.89,326.91 537.89,326.39 538.90,325.86 539.90,325.33 540.90,324.80 541.90,324.28 542.91,323.75 543.91,323.22 544.91,322.68 545.91,322.15 546.92,321.62 547.92,321.09 548.92,320.56 549.92,320.02 550.93,319.49 551.93,318.95 552.93,318.42 553.93,317.88 554.94,317.34 555.94,316.80 556.94,316.27 557.94,315.73 558.95,315.19 559.95,314.64 560.95,314.10 561.95,313.56 562.95,313.02 563.96,312.47 564.96,311.93 565.96,311.38 566.96,310.84 567.97,310.29 568.97,309.74 569.97,309.19 570.97,308.64 571.98,308.09 572.98,307.54 573.98,306.99 574.98,306.44 575.99,305.89 576.99,305.33 577.99,304.78 578.99,304.22 580.00,303.67 581.00,303.11 582.00,302.55 583.00,301.99 584.01,301.43 585.01,300.87 586.01,300.31 587.01,299.75 588.01,299.18 589.02,298.62 590.02,298.05 591.02,297.49 592.02,296.92 593.03,296.35 594.03,295.78 595.03,295.21 596.03,294.64 597.04,294.07 598.04,293.50 599.04,292.93 600.04,292.35 601.05,291.78 602.05,291.20 603.05,290.62 604.05,290.05 605.06,289.47 606.06,288.89 607.06,288.31 608.06,287.73 609.07,287.14 610.07,286.56 611.07,285.97 612.07,285.39 613.07,284.80 614.08,284.22 615.08,283.63 616.08,283.04 617.08,282.45 618.09,281.86 619.09,281.26 620.09,280.67 621.09,280.08 622.10,279.48 623.10,278.89" fill="none" stroke="#00ff00" stroke-width="1.50" stroke-linejoin="round"/>
<polyline points="373.00,467.40 373.05,465.92 373.10,464.43 373.15,462.93 373.20,461.41 373.25,459.90 373.30,458.37 373.35,456.84 373.40,455.31 373.45,453.78 373.50,452.24 373.55,450.71 373.60,449.18 373.65,447.66 373.70,446.15 373.75,444.64 373.80,443.14 373.85,441.65 373.90,440.18 373.95,438.72 374.00,437.27 374.05,435.84 374.10,434.43 374.15,433.05 374.20,431.68 374.25,430.34 374.30,429.02 374.35,427.73 374.40,426.46 374.45,425.23 374.50,424.03 374.55,422.86 374.60,421.73 374.65,420.63 374.70,419.56 374.75,418.54 374.80,417.56 374.85,416.62 374.90,415.73 374.95,414.87 375.00,414.07 375.05,413.32 375.11,412.61 375.16,411.96 375.21,411.35 375.26,410.81 375.31,410.32 375.36,409.88 375.41,409.51 375.46,409.20 375.51,408.95 375.56,408.73 375.61,408.51 375.66,408.30 375.71,408.09 375.76,407.89 375.81,407.69 375.86,407.49 375.91,407.29 375.96,407.10 376.01,406.90 376.06,406.72 376.11,406.53 376.16,406.35 376.21,406.17 376.26,405.99 376.31,405.82 376.36,405.64 376.41,405.47 376.46,405.31 376.51,405.14 376.56,404.98 376.61,404.82 376.66,404.66 376.71,404.51 376.76,404.36 376.81,404.21 376.86,404.06 376.91,403.91 376.96,403.77 377.01,403.63 377.06,403.49 377.11,403.35 377.16,403.22 377.21,403.08 377.26,402.95 377.31,402.82 377.36,402.70 377.41,402.57 377.46,402.45 377.51,402.33 377.56,402.21 377.61,402.09 377.66,401.98 377.71,401.87 377.76,401.75 377.81,401.64 377.86,401.54 377.91,401.43 377.96,401.32 378.01,401.22 378.06,401.12 378.11,401.02 378.16,400.92 378.21,400.82 378.26,400.73 378.31,400.63 378.36,400.54 378.41,400.45 378.46,400.36 378.51,400.27 378.56,400.18 378.61,400.09 378.66,400.01 378.71,399.92 378.76,399.84 378.81,399.76 378.86,399.68 378.91,399.60 378.96,399.52 379.01,399.44 379.06,399.36 379.11,399.29 379.16,399.21 379.21,399.14 379.26,399.07 379.32,398.99 379.37,398.92 379.42,398.85 379.47,398.78 379.52,398.71 379.57,398.64 379.62,398.57 379.67,398.51 379.72,398.44 379.77,398.37 379.82,398.31 379.87,398.24 379.92,398.18 379.97,398.11 380.02,398.05 380.07,397.98 380.12,397.92 380.17,397.86 380.22,397.79 380.27,397.73 380.32,397.67 380.37,397.60 380.42,397.54 380.47,397.48 380.52,397.42 381.52,396.15 382.52,394.79 383.53,393.58 384.53,392.49 385.53,391.49 386.53,390.55 387.53,389.65 388.54,388.76 389.54,387.91 390.54,387.11 391.54,386.33 392.55,385.59 393.55,384.87 394.55,384.16 395.55,383.47 396.56,382.81 397.56,382.16 398.56,381.53 399.56,380.91 400.57,380.30 401.57,379.70 402.57,379.12 403.57,378.54 404.58,377.98 405.58,377.43 406.58,376.88 407.58,376.34 408.59,375.81 409.59,375.28 410.59,374.77 411.59,374.26 412.59,373.75 413.60,373.25 414.60,372.76 415.60,372.27 416.60,371.79 417.61,371.31 418.61,370.84 419.61,370.37 420.61,369.90 421.62,369.44 422.62,368.99 423.62,368.53 424.62,368.08 425.63,367.64 426.63,367.19 427.63,366.75 428.63,366.32 429.64,365.88 430.64,365.45 431.64,365.02 432.64,364.60 433.65,364.17 434.65,363.75 435.65,363.33 436.65,362.92 437.65,362.50 438.66,362.09 439.66,361.68 440.66,361.27 441.66,360.87 442.67,360.46 443.67,360.06 444.67,359.66 445.67,359.26 446.68,358.87 447.68,358.47 448.68,358.08 449.68,357.69 450.69,357.30 451.69,356.91 452.69,356.52 453.69,356.13 454.70,355.75 455.70,355.37 456.70,354.98 457.70,354.60 458.71,354.22 459.71,353.85 460.71,353.47 461.71,353.09 462.71,352.72 463.72,352.34 464.72,351.97 465.72,351.60 466.72,351.23 467.73,350.86 468.73,350.49 469.73,350.13 470.73,349.76 471.74,349.39 472.74,349.03 473.74,348.67 474.74,348.30 475.75,347.94 476.75,347.58 477.75,347.22 478.75,346.86 479.76,346.50 480.76,346.14 481.76,345.79 482.76,345.43 483.77,345.08 484.77,344.72 485.77,344.37 486.77,344.01 487.77,343.66 488.78,343.31 489.78,342.96 490.78,342.61 491.78,342.26 492.79,341.91 493.79,341.56 494.79,341.21 495.79,340.86 496.80,340.52 497.80,340.17 498.80,339.82 499.80,339.48 500.81,339.14 501.81,338.79 502.81,338.45 503.81,338.10 504.82,337.76 505.82,337.42 506.82,337.08 507.82,336.74 508.83,336.40 509.83,336.06 510.83,335.72 511.83,335.38 512.83,335.04 513.84,334.70 514.84,334.36 515.84,334.03 516.84,333.69 517.85,333.35 518.85,333.02 519.85,332.68 520.85,332.35 521.86,332.01 522.86,331.68 523.86,331.34 524.86,331.01 525.87,330.68 526.87,330.34 527.87,330.01 528.87,329.68 529.88,329.35 530.88,329.02 531.88,328.69 532.88,328.36 533.89,328.03 534.89,327.70 535.89,327.37 536.89,327.04 537.89,326.71 538.90,326.38 539.90,326.05 540.90,325.72 541.90,325.40 542.91,325.07 543.91,324.74 544.91,324.41 545.91,324.09 546.92,323.76 547.92,323.44 548.92,323.11 549.92,322.79 550.93,322.46 551.93,322.14 552.93,321.81 553.93,321.49 554.94,321.16 555.94,320.84 556.94,320.52 557.94,320.19 558.95,319.87 559.95,319.55 560.95,319.23 561.95,318.90 562.95,318.58 563.96,318.26 564.96,317.94 565.96,317.62 566.96,317.30 567.97,316.98 568.97,316.66 569.97,316.34 570.97,316.02 571.98,315.70 572.98,315.38 573.98,315.06 574.98,314.74 575.99,314.42 576.99,314.10 577.99,313.78 578.99,313.47 580.00,313.15 581.00,312.83 582.00,312.51 583.00,312.20 584.01,311.88 585.01,311.56 586.01,311.25 587.01,310.93 588.01,310.61 589.02,310.30 590.02,309.98 591.02,309.66 592.02,309.35 593.03,309.03 594.03,308.72 595.03,308.40 596.03,308.09 597.04,307.77 598.04,307.46 599.04,307.15 600.04,306.83 601.05,306.52 602.05,306.20 603.05,305.89 604.05,305.58 605.06,305.26 606.06,304.95 607.06,304.64 608.06,304.32 609.07,304.01 610.07,303.70 611.07,303.39 612.07,303.07 613.07,302.76 614.08,302.45 615.08,302.14 616.08,301.83 617.08,301.52 618.09,301.20 619.09,300.89 620.09,300.58 621.09,300.27 622.10,299.96 623.10,299.65" fill="none" stroke="#ff0000" stroke-width="1.50" stroke-dasharray="4.6 4.4" stroke-linejoin="round"/>
<polyline points="373.00,467.40 373.05,465.55 373.10,463.68 373.15,461.80 373.20,459.91 373.25,458.01 373.30,456.10 373.35,454.19 373.40,452.28 373.45,450.36 373.50,448.45 373.55,446.53 373.60,444.62 373.65,442.72 373.70,440.82 373.75,438.93 373.80,437.05 373.85,435.18 373.90,433.33 373.95,431.50 374.00,429.68 374.05,427.88 374.10,426.10 374.15,424.34 374.20,422.61 374.25,420.91 374.30,419.23 374.35,417.59 374.40,415.97 374.45,414.39 374.50,412.85 374.55,411.34 374.60,409.87 374.65,408.44 374.70,407.05 374.75,405.71 374.80,404.41 374.85,403.16 374.90,401.96 374.95,400.81 375.00,399.72 375.05,398.67 375.11,397.69 375.16,396.76 375.21,395.89 375.26,395.09 375.31,394.34 375.36,393.67 375.41,393.06 375.46,392.52 375.51,392.04 375.56,391.64 375.61,391.32 375.66,391.06 375.71,390.81 375.76,390.57 375.81,390.33 375.86,390.10 375.91,389.86 375.96,389.63 376.01,389.41 376.06,389.18 376.11,388.96 376.16,388.75 376.21,388.53 376.26,388.32 376.31,388.11 376.36,387.91 376.41,387.71 376.46,387.51 376.51,387.31 376.56,387.12 376.61,386.93 376.66,386.74 376.71,386.55 376.76,386.37 376.81,386.19 376.86,386.01 376.91,385.84 376.96,385.67 377.01,385.50 377.06,385.33 377.11,385.17 377.16,385.01 377.21,384.85 377.26,384.69 377.31,384.54 377.36,384.38 377.41,384.23 377.46,384.09 377.51,383.94 377.56,383.80 377.61,383.66 377.66,383.52 377.71,383.38 377.76,383.25 377.81,383.12 377.86,382.99 377.91,382.86 377.96,382.73 378.01,382.61 378.06,382.48 378.11,382.36 378.16,382.24 378.21,382.13 378.26,382.01 378.31,381.90 378.36,381.79 378.41,381.68 378.46,381.57 378.51,381.46 378.56,381.35 378.61,381.25 378.66,381.15 378.71,381.05 378.76,380.95 378.81,380.85 378.86,380.75 378.91,380.66 378.96,380.56 379.01,380.47 379.06,380.38 379.11,380.29 379.16,380.20 379.21,380.11 379.26,380.03 379.32,379.94 379.37,379.86 379.42,379.77 379.47,379.69 379.52,379.61 379.57,379.53 379.62,379.45 379.67,379.37 379.72,379.29 379.77,379.21 379.82,379.14 379.87,379.06 379.92,378.99 379.97,378.91 380.02,378.84 380.07,378.77 380.12,378.69 380.17,378.62 380.22,378.55 380.27,378.48 380.32,378.41 380.37,378.34 380.42,378.27 380.47,378.20 380.52,378.13 381.52,376.78 382.52,375.37 383.53,374.12 384.53,373.02 385.53,372.02 386.53,371.11 387.53,370.26 388.54,369.42 389.54,368.63 390.54,367.90 391.54,367.20 392.55,366.54 393.55,365.91 394.55,365.29 395.55,364.69 396.56,364.13 397.56,363.58 398.56,363.05 399.56,362.54 400.57,362.03 401.57,361.54 402.57,361.07 403.57,360.61 404.58,360.16 405.58,359.72 406.58,359.29 407.58,358.86 408.59,358.45 409.59,358.04 410.59,357.64 411.59,357.25 412.59,356.86 413.60,356.48 414.60,356.11 415.60,355.74 416.60,355.38 417.61,355.02 418.61,354.67 419.61,354.32 420.61,353.97 421.62,353.63 422.62,353.29 423.62,352.96 424.62,352.63 425.63,352.31 426.63,351.98 427.63,351.66 428.63,351.35 429.64,351.03 430.64,350.72 431.64,350.41 432.64,350.11 433.65,349.80 434.65,349.50 435.65,349.20 436.65,348.90 437.65,348.61 438.66,348.32 439.66,348.02 440.66,347.74 441.66,347.45 442.67,347.16 443.67,346.88 444.67,346.60 445.67,346.32 446.68,346.04 447.68,345.76 448.68,345.48 449.68,345.21 450.69,344.93 451.69,344.66 452.69,344.39 453.69,344.12 454.70,343.85 455.70,343.58 456.70,343.32 457.70,343.05 458.71,342.79 459.71,342.52 460.71,342.26 461.71,342.00 462.71,341.74 463.72,341.48 464.72,341.22 465.72,340.96 466.72,340.71 467.73,340.45 468.73,340.20 469.73,339.94 470.73,339.69 471.74,339.43 472.74,339.18 473.74,338.93 474.74,338.68 475.75,338.43 476.75,338.18 477.75,337.93 478.75,337.68 479.76,337.43 480.76,337.19 481.76,336.94 482.76,336.69 483.77,336.45 484.77,336.20 485.77,335.96 486.77,335.71 487.77,335.47 488.78,335.23 489.78,334.99 490.78,334.74 491.78,334.50 492.79,334.26 493.79,334.02 494.79,333.78 495.79,333.54 496.80,333.30 497.80,333.06 498.80,332.82 499.80,332.58 500.81,332.35 501.81,332.11 502.81,331.87 503.81,331.63 504.82,331.40 505.82,331.16 506.82,330.93 507.82,330.69 508.83,330.46 509.83,330.22 510.83,329.99 511.83,329.75 512.83,329.52 513.84,329.28 514.84,329.05 515.84,328.82 516.84,328.58 517.85,328.35 518.85,328.12 519.85,327.89 520.85,327.66 521.86,327.42 522.86,327.19 523.86,326.96 524.86,326.73 525.87,326.50 526.87,326.27 527.87,326.04 528.87,325.81 529.88,325.58 530.88,325.35 531.88,325.12 532.88,324.89 533.89,324.66 534.89,324.43 535.89,324.20 536.89,323.98 537.89,323.75 538.90,323.52 539.90,323.29 540.90,323.06 541.90,322.84 542.91,322.61 543.91,322.38 544.91,322.15 545.91,321.93 546.92,321.70 547.92,321.47 548.92,321.25 549.92,321.02 550.93,320.79 551.93,320.57 552.93,320.34 553.93,320.12 554.94,319.89 555.94,319.67 556.94,319.44 557.94,319.21 558.95,318.99 559.95,318.76 560.95,318.54 561.95,318.31 562.95,318.09 563.96,317.87 564.96,317.64 565.96,317.42 566.96,317.19 567.97,316.97 568.97,316.74 569.97,316.52 570.97,316.30 571.98,316.07 572.98,315.85 573.98,315.63 574.98,315.40 575.99,315.18 576.99,314.96 577.99,314.73 578.99,314.51 580.00,314.29 581.00,314.06 582.00,313.84 583.00,313.62 584.01,313.40 585.01,313.17 586.01,312.95 587.01,312.73 588.01,312.51 589.02,312.28 590.02,312.06 591.02,311.84 592.02,311.62 593.03,311.40 594.03,311.17 595.03,310.95 596.03,310.73 597.04,310.51 598.04,310.29 599.04,310.07 600.04,309.84 601.05,309.62 602.05,309.40 603.05,309.18 604.05,308.96 605.06,308.74 606.06,308.52 607.06,308.30 608.06,308.07 609.07,307.85 610.07,307.63 611.07,307.41 612.07,307.19 613.07,306.97 614.08,306.75 615.08,306.53 616.08,306.31 617.08,306.09 618.09,305.87 619.09,305.65 620.09,305.43 621.09,305.21 622.10,304.99 623.10,304.77" fill="none" stroke="#0000ff" stroke-width="1.50" stroke-dasharray="4.5 1.6 1.5 1.6" stroke-linejoin="round"/>
<rect x="380.30" y="281.30" width="53.50" height="40.60" fill="#fff" stroke="#8a8a8a" stroke-width="0.9" opacity="1"/>
<path d="M383.00 289.10H401.00" stroke="#00ff00" stroke-width="1.50"/>
<text x="402.00" y="293.00" class="lgs">L = 10</text>
<path d="M383.00 301.90H401.00" stroke="#ff0000" stroke-width="1.50" stroke-dasharray="4.6 4.4"/>
<text x="402.00" y="305.80" class="lgs">L = 15</text>
<path d="M383.00 314.60H401.00" stroke="#0000ff" stroke-width="1.50" stroke-dasharray="4.5 1.6 1.5 1.6"/>
<text x="402.00" y="318.50" class="lgs">L = 20</text>
<text x="97.7" y="247.9" class="cap">(a)&#160;&#160;Cumulative regret</text>
<text x="442.5" y="247.6" class="cap">(b)&#160;&#160;Average regret</text>
<text x="91.8" y="519.5" class="cap" textLength="127" lengthAdjust="spacing">(c)&#160;&#160;Per-frame net reward</text>
<text x="419.7" y="519.5" class="cap" textLength="126.5" lengthAdjust="spacing">(d)&#160;&#160;Regret with different</text>
<text x="552.3" y="519.5" class="cap" style="font-style:italic;font-size:14px">L</text>
</svg></body></html>
